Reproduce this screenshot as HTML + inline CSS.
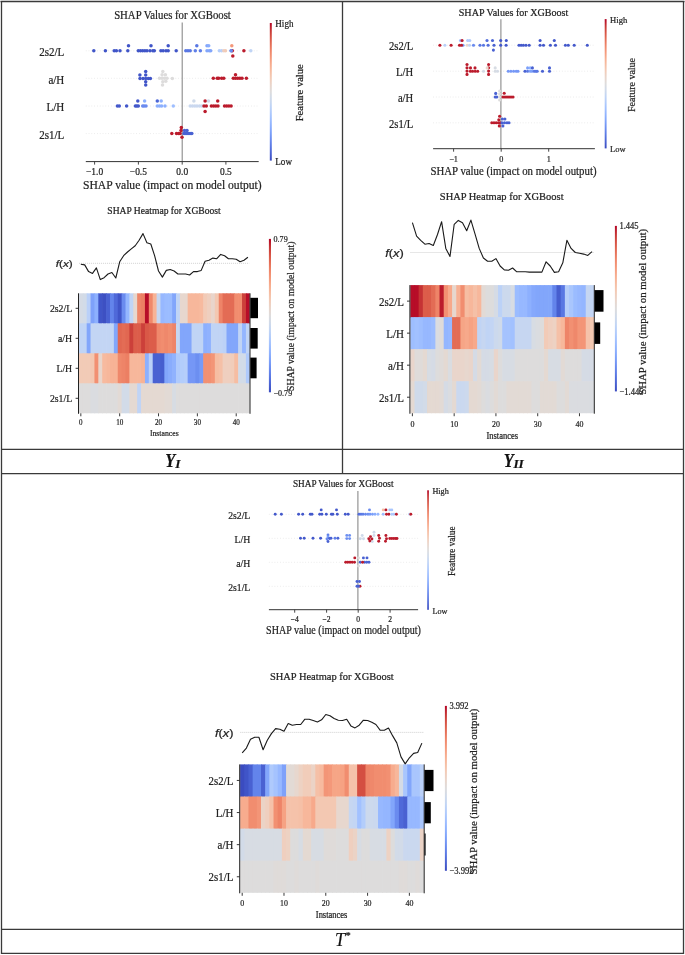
<!DOCTYPE html>
<html><head><meta charset="utf-8"><title>SHAP figure</title>
<style>html,body{margin:0;padding:0;background:#fff;width:685px;height:955px;overflow:hidden;font-family:"Liberation Serif",serif;}
svg{display:block;filter:blur(0.35px);} svg text{stroke:#222;stroke-width:0.22px;paint-order:stroke;}</style></head><body>
<svg width="685" height="955" viewBox="0 0 685 955"><line x1="0.50" y1="1.50" x2="684.50" y2="1.50" stroke="#3a3a3a" stroke-width="1.30" />
<line x1="1.50" y1="1.00" x2="1.50" y2="954.00" stroke="#3a3a3a" stroke-width="1.30" />
<line x1="683.50" y1="1.00" x2="683.50" y2="954.00" stroke="#3a3a3a" stroke-width="1.30" />
<line x1="1.00" y1="953.30" x2="684.00" y2="953.30" stroke="#3a3a3a" stroke-width="1.30" />
<line x1="342.50" y1="1.00" x2="342.50" y2="474.00" stroke="#3a3a3a" stroke-width="1.30" />
<line x1="1.00" y1="449.40" x2="684.00" y2="449.40" stroke="#3a3a3a" stroke-width="1.30" />
<line x1="1.00" y1="473.70" x2="684.00" y2="473.70" stroke="#3a3a3a" stroke-width="1.30" />
<line x1="1.00" y1="929.30" x2="684.00" y2="929.30" stroke="#3a3a3a" stroke-width="1.30" />
<text transform="translate(165.3,467) scale(0.88,1)" x="0" y="0" font-size="18.5" font-family="'Liberation Serif', serif" font-weight="bold" font-style="italic" fill="#111">Y</text>
<text x="175.2" y="468.3" font-size="13.4" font-family="'Liberation Serif', serif" font-weight="bold" font-style="italic" fill="#111">I</text>
<text transform="translate(503.7,467) scale(0.88,1)" x="0" y="0" font-size="18.5" font-family="'Liberation Serif', serif" font-weight="bold" font-style="italic" fill="#111">Y</text>
<text x="513.4" y="468.3" font-size="13.4" font-family="'Liberation Serif', serif" font-weight="bold" font-style="italic" fill="#111">II</text>
<text x="335" y="946.2" font-size="18" fill="#111" font-family="'Liberation Serif', serif" font-style="italic">T<tspan font-size="10.5" dx="0" dy="-7">*</tspan></text>
<text x="172.5" y="18.6" font-size="11.60" text-anchor="middle" fill="#222" font-family="'Liberation Serif', serif" textLength="116.7" lengthAdjust="spacingAndGlyphs" >SHAP Values for XGBoost</text>
<line x1="85.80" y1="50.80" x2="258.70" y2="50.80" stroke="#d8d8d8" stroke-width="0.60" stroke-dasharray="0.8 2"/>
<line x1="85.80" y1="78.30" x2="258.70" y2="78.30" stroke="#d8d8d8" stroke-width="0.60" stroke-dasharray="0.8 2"/>
<line x1="85.80" y1="106.00" x2="258.70" y2="106.00" stroke="#d8d8d8" stroke-width="0.60" stroke-dasharray="0.8 2"/>
<line x1="85.80" y1="133.60" x2="258.70" y2="133.60" stroke="#d8d8d8" stroke-width="0.60" stroke-dasharray="0.8 2"/>
<line x1="182.20" y1="22.50" x2="182.20" y2="161.60" stroke="#8a8a8a" stroke-width="1.10" />
<text x="64.3" y="56.1" font-size="12.60" text-anchor="end" fill="#222" font-family="'Liberation Serif', serif" textLength="25.1" lengthAdjust="spacingAndGlyphs" >2s2/L</text>
<text x="64.3" y="83.6" font-size="12.60" text-anchor="end" fill="#222" font-family="'Liberation Serif', serif" textLength="15.9" lengthAdjust="spacingAndGlyphs" >a/H</text>
<text x="64.3" y="111.3" font-size="12.60" text-anchor="end" fill="#222" font-family="'Liberation Serif', serif" textLength="17.8" lengthAdjust="spacingAndGlyphs" >L/H</text>
<text x="64.3" y="138.9" font-size="12.60" text-anchor="end" fill="#222" font-family="'Liberation Serif', serif" textLength="25.1" lengthAdjust="spacingAndGlyphs" >2s1/L</text>
<circle cx="93.8" cy="50.8" r="1.75" fill="#4055c8"/>
<circle cx="105.4" cy="50.8" r="1.75" fill="#4055c8"/>
<circle cx="114.2" cy="50.8" r="1.75" fill="#4055c8"/>
<circle cx="116.4" cy="50.8" r="1.75" fill="#4055c8"/>
<circle cx="120.0" cy="50.8" r="1.75" fill="#4055c8"/>
<circle cx="127.8" cy="50.8" r="1.75" fill="#4055c8"/>
<circle cx="138.3" cy="50.8" r="1.75" fill="#4055c8"/>
<circle cx="140.5" cy="50.8" r="1.75" fill="#4055c8"/>
<circle cx="142.7" cy="50.8" r="1.75" fill="#4055c8"/>
<circle cx="144.9" cy="50.8" r="1.75" fill="#4055c8"/>
<circle cx="147.0" cy="50.8" r="1.75" fill="#4055c8"/>
<circle cx="150.0" cy="50.8" r="1.75" fill="#4055c8"/>
<circle cx="152.9" cy="50.8" r="1.75" fill="#4055c8"/>
<circle cx="154.3" cy="50.8" r="1.75" fill="#4055c8"/>
<circle cx="160.9" cy="50.8" r="1.75" fill="#4055c8"/>
<circle cx="163.1" cy="50.8" r="1.75" fill="#4055c8"/>
<circle cx="166.0" cy="50.8" r="1.75" fill="#4055c8"/>
<circle cx="168.2" cy="50.8" r="1.75" fill="#4055c8"/>
<circle cx="176.2" cy="50.8" r="1.75" fill="#4055c8"/>
<circle cx="128.5" cy="45.7" r="1.75" fill="#4055c8"/>
<circle cx="151.0" cy="45.7" r="1.75" fill="#4055c8"/>
<circle cx="168.2" cy="45.7" r="1.75" fill="#4055c8"/>
<circle cx="185.8" cy="50.8" r="1.75" fill="#5977e3"/>
<circle cx="188.0" cy="50.8" r="1.75" fill="#5977e3"/>
<circle cx="190.2" cy="50.8" r="1.75" fill="#5977e3"/>
<circle cx="195.3" cy="50.8" r="1.75" fill="#5f7fe8"/>
<circle cx="200.4" cy="50.8" r="1.75" fill="#5f7fe8"/>
<circle cx="207.0" cy="50.8" r="1.75" fill="#82a6fb"/>
<circle cx="209.2" cy="50.8" r="1.75" fill="#82a6fb"/>
<circle cx="210.7" cy="50.8" r="1.75" fill="#82a6fb"/>
<circle cx="219.4" cy="50.8" r="1.75" fill="#b3cdfb"/>
<circle cx="221.6" cy="50.8" r="1.75" fill="#bad0f8"/>
<circle cx="223.8" cy="50.8" r="1.75" fill="#efcfbf"/>
<circle cx="225.5" cy="50.8" r="1.75" fill="#f2cbb7"/>
<circle cx="231.1" cy="50.8" r="1.75" fill="#5f7fe8"/>
<circle cx="243.9" cy="50.8" r="1.75" fill="#bb1b2c"/>
<circle cx="250.8" cy="50.8" r="1.75" fill="#c0d4f5"/>
<circle cx="232.3" cy="50.8" r="1.75" fill="#bb1b2c"/>
<circle cx="231.3" cy="50.8" r="1.75" fill="#6a8bef"/>
<circle cx="196.8" cy="45.7" r="1.75" fill="#5977e3"/>
<circle cx="207.0" cy="45.7" r="1.75" fill="#82a6fb"/>
<circle cx="208.7" cy="45.7" r="1.75" fill="#89acfd"/>
<circle cx="231.8" cy="45.7" r="1.75" fill="#f4987a"/>
<circle cx="232.8" cy="56.0" r="1.75" fill="#bb1b2c"/>
<circle cx="145.7" cy="71.5" r="1.75" fill="#4055c8"/>
<circle cx="139.9" cy="74.9" r="1.75" fill="#4055c8"/>
<circle cx="145.7" cy="75.1" r="1.75" fill="#4055c8"/>
<circle cx="140.0" cy="78.4" r="1.75" fill="#4055c8"/>
<circle cx="143.0" cy="78.4" r="1.75" fill="#4055c8"/>
<circle cx="145.7" cy="78.4" r="1.75" fill="#4055c8"/>
<circle cx="148.3" cy="78.4" r="1.75" fill="#4055c8"/>
<circle cx="150.4" cy="78.4" r="1.75" fill="#4055c8"/>
<circle cx="145.7" cy="81.7" r="1.75" fill="#4055c8"/>
<circle cx="145.7" cy="85.1" r="1.75" fill="#4055c8"/>
<circle cx="162.8" cy="71.5" r="1.75" fill="#dddcdc"/>
<circle cx="162.1" cy="74.8" r="1.75" fill="#dddcdc"/>
<circle cx="165.4" cy="74.8" r="1.75" fill="#dddcdc"/>
<circle cx="159.5" cy="78.2" r="1.75" fill="#dddcdc"/>
<circle cx="162.0" cy="78.2" r="1.75" fill="#dddcdc"/>
<circle cx="164.5" cy="78.2" r="1.75" fill="#dddcdc"/>
<circle cx="167.0" cy="78.2" r="1.75" fill="#dddcdc"/>
<circle cx="172.3" cy="78.4" r="1.75" fill="#dddcdc"/>
<circle cx="162.8" cy="81.7" r="1.75" fill="#dddcdc"/>
<circle cx="165.8" cy="81.3" r="1.75" fill="#dddcdc"/>
<circle cx="162.5" cy="85.1" r="1.75" fill="#dddcdc"/>
<circle cx="213.3" cy="78.3" r="1.75" fill="#bb1b2c"/>
<circle cx="217.2" cy="78.3" r="1.75" fill="#bb1b2c"/>
<circle cx="218.7" cy="78.3" r="1.75" fill="#bb1b2c"/>
<circle cx="221.6" cy="78.3" r="1.75" fill="#bb1b2c"/>
<circle cx="223.8" cy="78.3" r="1.75" fill="#bb1b2c"/>
<circle cx="233.3" cy="78.3" r="1.75" fill="#bb1b2c"/>
<circle cx="237.7" cy="78.3" r="1.75" fill="#bb1b2c"/>
<circle cx="239.9" cy="78.3" r="1.75" fill="#bb1b2c"/>
<circle cx="242.0" cy="78.3" r="1.75" fill="#bb1b2c"/>
<circle cx="246.4" cy="78.3" r="1.75" fill="#bb1b2c"/>
<circle cx="235.5" cy="74.8" r="1.75" fill="#bb1b2c"/>
<circle cx="235.5" cy="78.3" r="1.75" fill="#bb1b2c"/>
<circle cx="117.4" cy="106.0" r="1.75" fill="#4358cb"/>
<circle cx="119.3" cy="106.0" r="1.75" fill="#4358cb"/>
<circle cx="126.6" cy="106.0" r="1.75" fill="#4358cb"/>
<circle cx="135.4" cy="106.0" r="1.75" fill="#4358cb"/>
<circle cx="136.8" cy="106.0" r="1.75" fill="#4358cb"/>
<circle cx="138.3" cy="106.0" r="1.75" fill="#4358cb"/>
<circle cx="137.8" cy="101.0" r="1.75" fill="#4358cb"/>
<circle cx="142.7" cy="106.0" r="1.75" fill="#6a8bef"/>
<circle cx="144.1" cy="106.0" r="1.75" fill="#6a8bef"/>
<circle cx="146.0" cy="106.0" r="1.75" fill="#6a8bef"/>
<circle cx="144.6" cy="101.0" r="1.75" fill="#8db0fe"/>
<circle cx="157.3" cy="106.0" r="1.75" fill="#8db0fe"/>
<circle cx="159.5" cy="106.0" r="1.75" fill="#8db0fe"/>
<circle cx="161.6" cy="106.0" r="1.75" fill="#8db0fe"/>
<circle cx="165.0" cy="106.0" r="1.75" fill="#8db0fe"/>
<circle cx="157.3" cy="101.0" r="1.75" fill="#4c66d6"/>
<circle cx="161.2" cy="101.0" r="1.75" fill="#8db0fe"/>
<circle cx="173.3" cy="106.0" r="1.75" fill="#9ebeff"/>
<circle cx="190.2" cy="106.0" r="1.75" fill="#cad8ef"/>
<circle cx="192.5" cy="106.0" r="1.75" fill="#cad8ef"/>
<circle cx="194.8" cy="106.0" r="1.75" fill="#cad8ef"/>
<circle cx="197.0" cy="106.0" r="1.75" fill="#cad8ef"/>
<circle cx="199.5" cy="106.0" r="1.75" fill="#cad8ef"/>
<circle cx="201.9" cy="106.0" r="1.75" fill="#cad8ef"/>
<circle cx="193.9" cy="101.0" r="1.75" fill="#cfdaea"/>
<circle cx="208.5" cy="101.0" r="1.75" fill="#cfdaea"/>
<circle cx="204.0" cy="106.0" r="1.75" fill="#bb1b2c"/>
<circle cx="206.3" cy="106.0" r="1.75" fill="#bb1b2c"/>
<circle cx="211.4" cy="106.0" r="1.75" fill="#bb1b2c"/>
<circle cx="213.6" cy="106.0" r="1.75" fill="#bb1b2c"/>
<circle cx="215.8" cy="106.0" r="1.75" fill="#bb1b2c"/>
<circle cx="218.0" cy="106.0" r="1.75" fill="#bb1b2c"/>
<circle cx="224.5" cy="106.0" r="1.75" fill="#bb1b2c"/>
<circle cx="226.7" cy="106.0" r="1.75" fill="#bb1b2c"/>
<circle cx="228.9" cy="106.0" r="1.75" fill="#bb1b2c"/>
<circle cx="231.1" cy="106.0" r="1.75" fill="#bb1b2c"/>
<circle cx="205.1" cy="101.0" r="1.75" fill="#bb1b2c"/>
<circle cx="217.7" cy="101.0" r="1.75" fill="#bb1b2c"/>
<circle cx="205.1" cy="111.6" r="1.75" fill="#bb1b2c"/>
<circle cx="171.8" cy="133.6" r="1.75" fill="#bb1b2c"/>
<circle cx="176.5" cy="133.6" r="1.75" fill="#bb1b2c"/>
<circle cx="178.7" cy="133.6" r="1.75" fill="#bb1b2c"/>
<circle cx="180.1" cy="133.6" r="1.75" fill="#bb1b2c"/>
<circle cx="181.3" cy="127.6" r="1.75" fill="#bb1b2c"/>
<circle cx="181.0" cy="130.6" r="1.75" fill="#bb1b2c"/>
<circle cx="182.0" cy="137.3" r="1.75" fill="#bb1b2c"/>
<circle cx="184.0" cy="133.6" r="1.75" fill="#4961d2"/>
<circle cx="186.0" cy="133.6" r="1.75" fill="#4961d2"/>
<circle cx="188.0" cy="133.6" r="1.75" fill="#4961d2"/>
<circle cx="190.0" cy="133.6" r="1.75" fill="#4961d2"/>
<circle cx="191.8" cy="133.6" r="1.75" fill="#4961d2"/>
<circle cx="184.5" cy="130.6" r="1.75" fill="#4961d2"/>
<circle cx="187.0" cy="130.6" r="1.75" fill="#4961d2"/>
<line x1="85.80" y1="161.60" x2="258.70" y2="161.60" stroke="#333" stroke-width="1.00" />
<line x1="94.60" y1="161.60" x2="94.60" y2="164.60" stroke="#333" stroke-width="0.90" />
<text x="94.6" y="174.9" font-size="9.70" text-anchor="middle" fill="#222" font-family="'Liberation Serif', serif" textLength="17.1" lengthAdjust="spacingAndGlyphs" >−1.0</text>
<line x1="138.40" y1="161.60" x2="138.40" y2="164.60" stroke="#333" stroke-width="0.90" />
<text x="138.4" y="174.9" font-size="9.70" text-anchor="middle" fill="#222" font-family="'Liberation Serif', serif" textLength="17.1" lengthAdjust="spacingAndGlyphs" >−0.5</text>
<line x1="182.20" y1="161.60" x2="182.20" y2="164.60" stroke="#333" stroke-width="0.90" />
<text x="182.2" y="174.9" font-size="9.70" text-anchor="middle" fill="#222" font-family="'Liberation Serif', serif" textLength="11.8" lengthAdjust="spacingAndGlyphs" >0.0</text>
<line x1="225.90" y1="161.60" x2="225.90" y2="164.60" stroke="#333" stroke-width="0.90" />
<text x="225.9" y="174.9" font-size="9.70" text-anchor="middle" fill="#222" font-family="'Liberation Serif', serif" textLength="11.8" lengthAdjust="spacingAndGlyphs" >0.5</text>
<text x="172.3" y="189.0" font-size="12.90" text-anchor="middle" fill="#222" font-family="'Liberation Serif', serif" textLength="178.6" lengthAdjust="spacingAndGlyphs" >SHAP value (impact on model output)</text>
<defs><linearGradient id="cb1" x1="0" y1="0" x2="0" y2="1"><stop offset="0.00" stop-color="#b40426"/><stop offset="0.05" stop-color="#c53334"/><stop offset="0.10" stop-color="#d65244"/><stop offset="0.15" stop-color="#e36c55"/><stop offset="0.20" stop-color="#ee8468"/><stop offset="0.25" stop-color="#f4987a"/><stop offset="0.30" stop-color="#f7ac8e"/><stop offset="0.35" stop-color="#f6bda2"/><stop offset="0.40" stop-color="#f2cbb7"/><stop offset="0.45" stop-color="#e9d5cb"/><stop offset="0.50" stop-color="#dddcdc"/><stop offset="0.55" stop-color="#cfdaea"/><stop offset="0.60" stop-color="#c0d4f5"/><stop offset="0.65" stop-color="#afcafc"/><stop offset="0.70" stop-color="#9ebeff"/><stop offset="0.75" stop-color="#8db0fe"/><stop offset="0.80" stop-color="#7b9ff9"/><stop offset="0.85" stop-color="#6a8bef"/><stop offset="0.90" stop-color="#5977e3"/><stop offset="0.95" stop-color="#4961d2"/><stop offset="1.00" stop-color="#3b4cc0"/></linearGradient></defs>
<rect x="269.80" y="23.00" width="2.00" height="137.60" fill="url(#cb1)"/>
<text x="275.3" y="26.5" font-size="9.80" text-anchor="start" fill="#222" font-family="'Liberation Serif', serif" textLength="18.2" lengthAdjust="spacingAndGlyphs" >High</text>
<text x="275.3" y="164.6" font-size="9.80" text-anchor="start" fill="#222" font-family="'Liberation Serif', serif" textLength="16.7" lengthAdjust="spacingAndGlyphs" >Low</text>
<text x="0" y="0" font-size="11.00" text-anchor="middle" dominant-baseline="central" fill="#222" font-family="'Liberation Serif', serif" textLength="57.0" lengthAdjust="spacingAndGlyphs" transform="translate(298.8,92.8) rotate(-90)">Feature value</text>
<text x="513.5" y="15.8" font-size="10.80" text-anchor="middle" fill="#222" font-family="'Liberation Serif', serif" textLength="109.5" lengthAdjust="spacingAndGlyphs" >SHAP Values for XGBoost</text>
<line x1="433.10" y1="45.20" x2="594.90" y2="45.20" stroke="#d8d8d8" stroke-width="0.60" stroke-dasharray="0.8 2"/>
<line x1="433.10" y1="71.20" x2="594.90" y2="71.20" stroke="#d8d8d8" stroke-width="0.60" stroke-dasharray="0.8 2"/>
<line x1="433.10" y1="97.00" x2="594.90" y2="97.00" stroke="#d8d8d8" stroke-width="0.60" stroke-dasharray="0.8 2"/>
<line x1="433.10" y1="122.80" x2="594.90" y2="122.80" stroke="#d8d8d8" stroke-width="0.60" stroke-dasharray="0.8 2"/>
<line x1="500.90" y1="19.30" x2="500.90" y2="148.70" stroke="#8a8a8a" stroke-width="1.10" />
<text x="413.2" y="50.1" font-size="11.80" text-anchor="end" fill="#222" font-family="'Liberation Serif', serif" textLength="24.2" lengthAdjust="spacingAndGlyphs" >2s2/L</text>
<text x="413.2" y="76.1" font-size="11.80" text-anchor="end" fill="#222" font-family="'Liberation Serif', serif" textLength="17.1" lengthAdjust="spacingAndGlyphs" >L/H</text>
<text x="413.2" y="101.9" font-size="11.80" text-anchor="end" fill="#222" font-family="'Liberation Serif', serif" textLength="15.3" lengthAdjust="spacingAndGlyphs" >a/H</text>
<text x="413.2" y="127.7" font-size="11.80" text-anchor="end" fill="#222" font-family="'Liberation Serif', serif" textLength="24.2" lengthAdjust="spacingAndGlyphs" >2s1/L</text>
<circle cx="439.9" cy="45.2" r="1.55" fill="#bb1b2c"/>
<circle cx="444.9" cy="45.2" r="1.55" fill="#bad0f8"/>
<circle cx="451.1" cy="45.2" r="1.55" fill="#bb1b2c"/>
<circle cx="459.5" cy="45.2" r="1.55" fill="#bb1b2c"/>
<circle cx="463.0" cy="45.2" r="1.55" fill="#7b9ff9"/>
<circle cx="467.1" cy="45.2" r="1.55" fill="#e9d5cb"/>
<circle cx="469.5" cy="45.2" r="1.55" fill="#c0d4f5"/>
<circle cx="473.5" cy="45.2" r="1.55" fill="#6a8bef"/>
<circle cx="480.0" cy="45.2" r="1.55" fill="#5977e3"/>
<circle cx="483.5" cy="45.2" r="1.55" fill="#5977e3"/>
<circle cx="488.1" cy="45.2" r="1.55" fill="#536edd"/>
<circle cx="494.0" cy="45.2" r="1.55" fill="#4961d2"/>
<circle cx="500.7" cy="45.2" r="1.55" fill="#4358cb"/>
<circle cx="506.1" cy="45.2" r="1.55" fill="#4358cb"/>
<circle cx="519.0" cy="45.2" r="1.55" fill="#4358cb"/>
<circle cx="521.2" cy="45.2" r="1.55" fill="#4358cb"/>
<circle cx="523.4" cy="45.2" r="1.55" fill="#4358cb"/>
<circle cx="526.0" cy="45.2" r="1.55" fill="#4358cb"/>
<circle cx="529.2" cy="45.2" r="1.55" fill="#4358cb"/>
<circle cx="540.1" cy="45.2" r="1.55" fill="#4358cb"/>
<circle cx="543.5" cy="45.2" r="1.55" fill="#4358cb"/>
<circle cx="550.4" cy="45.2" r="1.55" fill="#4358cb"/>
<circle cx="555.5" cy="45.2" r="1.55" fill="#4358cb"/>
<circle cx="565.4" cy="45.2" r="1.55" fill="#4358cb"/>
<circle cx="568.3" cy="45.2" r="1.55" fill="#4358cb"/>
<circle cx="574.2" cy="45.2" r="1.55" fill="#4358cb"/>
<circle cx="587.3" cy="45.2" r="1.55" fill="#4358cb"/>
<circle cx="461.5" cy="45.2" r="1.55" fill="#bb1b2c"/>
<circle cx="460.5" cy="40.5" r="1.55" fill="#9ebeff"/>
<circle cx="462.1" cy="40.5" r="1.55" fill="#bb1b2c"/>
<circle cx="467.7" cy="40.5" r="1.55" fill="#afcafc"/>
<circle cx="469.8" cy="40.5" r="1.55" fill="#afcafc"/>
<circle cx="487.0" cy="40.5" r="1.55" fill="#536edd"/>
<circle cx="492.5" cy="40.5" r="1.55" fill="#4c66d6"/>
<circle cx="500.7" cy="40.5" r="1.55" fill="#4358cb"/>
<circle cx="506.3" cy="40.5" r="1.55" fill="#4358cb"/>
<circle cx="540.1" cy="40.5" r="1.55" fill="#4358cb"/>
<circle cx="554.3" cy="40.5" r="1.55" fill="#4358cb"/>
<circle cx="493.4" cy="50.1" r="1.55" fill="#4961d2"/>
<circle cx="467.0" cy="64.5" r="1.55" fill="#bb1b2c"/>
<circle cx="488.6" cy="64.5" r="1.55" fill="#bb1b2c"/>
<circle cx="467.0" cy="67.8" r="1.55" fill="#bb1b2c"/>
<circle cx="488.6" cy="67.8" r="1.55" fill="#bb1b2c"/>
<circle cx="467.0" cy="71.1" r="1.55" fill="#bb1b2c"/>
<circle cx="488.6" cy="71.1" r="1.55" fill="#bb1b2c"/>
<circle cx="467.0" cy="74.4" r="1.55" fill="#bb1b2c"/>
<circle cx="488.6" cy="74.4" r="1.55" fill="#bb1b2c"/>
<circle cx="470.4" cy="71.2" r="1.55" fill="#bb1b2c"/>
<circle cx="472.6" cy="71.2" r="1.55" fill="#bb1b2c"/>
<circle cx="475.2" cy="71.2" r="1.55" fill="#bb1b2c"/>
<circle cx="477.7" cy="71.2" r="1.55" fill="#bb1b2c"/>
<circle cx="470.5" cy="67.9" r="1.55" fill="#bb1b2c"/>
<circle cx="475.0" cy="67.9" r="1.55" fill="#bb1b2c"/>
<circle cx="483.5" cy="71.2" r="1.55" fill="#d5dbe5"/>
<circle cx="487.2" cy="67.9" r="1.55" fill="#e9d5cb"/>
<circle cx="495.2" cy="67.9" r="1.55" fill="#d7dce3"/>
<circle cx="495.2" cy="71.2" r="1.55" fill="#d7dce3"/>
<circle cx="497.5" cy="71.2" r="1.55" fill="#d5dbe5"/>
<circle cx="508.3" cy="71.2" r="1.55" fill="#7597f6"/>
<circle cx="510.9" cy="71.2" r="1.55" fill="#7597f6"/>
<circle cx="513.6" cy="71.2" r="1.55" fill="#7597f6"/>
<circle cx="516.2" cy="71.2" r="1.55" fill="#7597f6"/>
<circle cx="518.0" cy="71.2" r="1.55" fill="#7597f6"/>
<circle cx="525.0" cy="71.2" r="1.55" fill="#4961d2"/>
<circle cx="527.6" cy="71.2" r="1.55" fill="#5977e3"/>
<circle cx="530.2" cy="71.2" r="1.55" fill="#7b9ff9"/>
<circle cx="532.0" cy="71.2" r="1.55" fill="#7b9ff9"/>
<circle cx="534.2" cy="71.2" r="1.55" fill="#5977e3"/>
<circle cx="535.9" cy="71.2" r="1.55" fill="#5977e3"/>
<circle cx="537.2" cy="71.2" r="1.55" fill="#5977e3"/>
<circle cx="542.5" cy="71.2" r="1.55" fill="#4961d2"/>
<circle cx="549.5" cy="71.2" r="1.55" fill="#4961d2"/>
<circle cx="527.6" cy="67.9" r="1.55" fill="#7b9ff9"/>
<circle cx="530.2" cy="67.9" r="1.55" fill="#8db0fe"/>
<circle cx="532.4" cy="67.9" r="1.55" fill="#4961d2"/>
<circle cx="549.5" cy="67.9" r="1.55" fill="#4961d2"/>
<circle cx="495.7" cy="93.4" r="1.55" fill="#4961d2"/>
<circle cx="495.2" cy="97.0" r="1.55" fill="#4961d2"/>
<circle cx="496.8" cy="97.0" r="1.55" fill="#4961d2"/>
<circle cx="499.6" cy="91.0" r="1.55" fill="#dddcdc"/>
<circle cx="499.6" cy="94.0" r="1.55" fill="#dddcdc"/>
<circle cx="499.6" cy="97.0" r="1.55" fill="#dddcdc"/>
<circle cx="499.6" cy="100.0" r="1.55" fill="#dddcdc"/>
<circle cx="504.2" cy="93.2" r="1.55" fill="#bb1b2c"/>
<circle cx="503.0" cy="97.0" r="1.55" fill="#bb1b2c"/>
<circle cx="505.0" cy="97.0" r="1.55" fill="#bb1b2c"/>
<circle cx="507.0" cy="97.0" r="1.55" fill="#bb1b2c"/>
<circle cx="509.0" cy="97.0" r="1.55" fill="#bb1b2c"/>
<circle cx="511.0" cy="97.0" r="1.55" fill="#bb1b2c"/>
<circle cx="513.0" cy="97.0" r="1.55" fill="#bb1b2c"/>
<circle cx="499.6" cy="116.2" r="1.55" fill="#bb1b2c"/>
<circle cx="498.8" cy="119.7" r="1.55" fill="#bb1b2c"/>
<circle cx="491.8" cy="122.8" r="1.55" fill="#bb1b2c"/>
<circle cx="494.0" cy="122.8" r="1.55" fill="#bb1b2c"/>
<circle cx="496.2" cy="122.8" r="1.55" fill="#bb1b2c"/>
<circle cx="498.4" cy="122.8" r="1.55" fill="#bb1b2c"/>
<circle cx="500.0" cy="122.8" r="1.55" fill="#bb1b2c"/>
<circle cx="499.3" cy="125.9" r="1.55" fill="#bb1b2c"/>
<circle cx="502.4" cy="119.0" r="1.55" fill="#4961d2"/>
<circle cx="504.9" cy="119.0" r="1.55" fill="#4961d2"/>
<circle cx="502.0" cy="122.8" r="1.55" fill="#4961d2"/>
<circle cx="504.5" cy="122.8" r="1.55" fill="#4961d2"/>
<circle cx="507.0" cy="122.8" r="1.55" fill="#4961d2"/>
<circle cx="509.0" cy="122.8" r="1.55" fill="#4961d2"/>
<circle cx="502.9" cy="125.9" r="1.55" fill="#4961d2"/>
<line x1="433.10" y1="148.70" x2="594.90" y2="148.70" stroke="#333" stroke-width="1.00" />
<line x1="453.60" y1="148.70" x2="453.60" y2="151.70" stroke="#333" stroke-width="0.90" />
<text x="453.6" y="161.6" font-size="9.00" text-anchor="middle" fill="#222" font-family="'Liberation Serif', serif" textLength="8.8" lengthAdjust="spacingAndGlyphs" >−1</text>
<line x1="501.20" y1="148.70" x2="501.20" y2="151.70" stroke="#333" stroke-width="0.90" />
<text x="501.2" y="161.6" font-size="9.00" text-anchor="middle" fill="#222" font-family="'Liberation Serif', serif" textLength="4.1" lengthAdjust="spacingAndGlyphs" >0</text>
<line x1="548.70" y1="148.70" x2="548.70" y2="151.70" stroke="#333" stroke-width="0.90" />
<text x="548.7" y="161.6" font-size="9.00" text-anchor="middle" fill="#222" font-family="'Liberation Serif', serif" textLength="4.1" lengthAdjust="spacingAndGlyphs" >1</text>
<text x="513.5" y="174.9" font-size="12.20" text-anchor="middle" fill="#222" font-family="'Liberation Serif', serif" textLength="166.0" lengthAdjust="spacingAndGlyphs" >SHAP value (impact on model output)</text>
<defs><linearGradient id="cb2" x1="0" y1="0" x2="0" y2="1"><stop offset="0.00" stop-color="#b40426"/><stop offset="0.05" stop-color="#c53334"/><stop offset="0.10" stop-color="#d65244"/><stop offset="0.15" stop-color="#e36c55"/><stop offset="0.20" stop-color="#ee8468"/><stop offset="0.25" stop-color="#f4987a"/><stop offset="0.30" stop-color="#f7ac8e"/><stop offset="0.35" stop-color="#f6bda2"/><stop offset="0.40" stop-color="#f2cbb7"/><stop offset="0.45" stop-color="#e9d5cb"/><stop offset="0.50" stop-color="#dddcdc"/><stop offset="0.55" stop-color="#cfdaea"/><stop offset="0.60" stop-color="#c0d4f5"/><stop offset="0.65" stop-color="#afcafc"/><stop offset="0.70" stop-color="#9ebeff"/><stop offset="0.75" stop-color="#8db0fe"/><stop offset="0.80" stop-color="#7b9ff9"/><stop offset="0.85" stop-color="#6a8bef"/><stop offset="0.90" stop-color="#5977e3"/><stop offset="0.95" stop-color="#4961d2"/><stop offset="1.00" stop-color="#3b4cc0"/></linearGradient></defs>
<rect x="604.70" y="19.10" width="1.90" height="129.30" fill="url(#cb2)"/>
<text x="610.1" y="22.6" font-size="9.20" text-anchor="start" fill="#222" font-family="'Liberation Serif', serif" textLength="17.1" lengthAdjust="spacingAndGlyphs" >High</text>
<text x="610.1" y="152.4" font-size="9.20" text-anchor="start" fill="#222" font-family="'Liberation Serif', serif" textLength="15.7" lengthAdjust="spacingAndGlyphs" >Low</text>
<text x="0" y="0" font-size="10.50" text-anchor="middle" dominant-baseline="central" fill="#222" font-family="'Liberation Serif', serif" textLength="54.0" lengthAdjust="spacingAndGlyphs" transform="translate(631.5,85.0) rotate(-90)">Feature value</text>
<text x="343.2" y="486.8" font-size="9.90" text-anchor="middle" fill="#222" font-family="'Liberation Serif', serif" textLength="100.6" lengthAdjust="spacingAndGlyphs" >SHAP Values for XGBoost</text>
<line x1="268.90" y1="514.30" x2="418.10" y2="514.30" stroke="#d8d8d8" stroke-width="0.60" stroke-dasharray="0.8 2"/>
<line x1="268.90" y1="538.30" x2="418.10" y2="538.30" stroke="#d8d8d8" stroke-width="0.60" stroke-dasharray="0.8 2"/>
<line x1="268.90" y1="562.30" x2="418.10" y2="562.30" stroke="#d8d8d8" stroke-width="0.60" stroke-dasharray="0.8 2"/>
<line x1="268.90" y1="586.30" x2="418.10" y2="586.30" stroke="#d8d8d8" stroke-width="0.60" stroke-dasharray="0.8 2"/>
<line x1="357.90" y1="491.00" x2="357.90" y2="609.70" stroke="#8a8a8a" stroke-width="1.10" />
<text x="250.3" y="518.8" font-size="10.80" text-anchor="end" fill="#222" font-family="'Liberation Serif', serif" textLength="22.1" lengthAdjust="spacingAndGlyphs" >2s2/L</text>
<text x="250.3" y="542.8" font-size="10.80" text-anchor="end" fill="#222" font-family="'Liberation Serif', serif" textLength="15.7" lengthAdjust="spacingAndGlyphs" >L/H</text>
<text x="250.3" y="566.8" font-size="10.80" text-anchor="end" fill="#222" font-family="'Liberation Serif', serif" textLength="14.0" lengthAdjust="spacingAndGlyphs" >a/H</text>
<text x="250.3" y="590.8" font-size="10.80" text-anchor="end" fill="#222" font-family="'Liberation Serif', serif" textLength="22.1" lengthAdjust="spacingAndGlyphs" >2s1/L</text>
<circle cx="275.2" cy="514.3" r="1.45" fill="#4358cb"/>
<circle cx="281.4" cy="514.3" r="1.45" fill="#4358cb"/>
<circle cx="298.6" cy="514.3" r="1.45" fill="#4358cb"/>
<circle cx="302.7" cy="514.3" r="1.45" fill="#4358cb"/>
<circle cx="310.3" cy="514.3" r="1.45" fill="#4358cb"/>
<circle cx="312.0" cy="514.3" r="1.45" fill="#4358cb"/>
<circle cx="319.7" cy="514.3" r="1.45" fill="#4358cb"/>
<circle cx="321.9" cy="514.3" r="1.45" fill="#4358cb"/>
<circle cx="326.3" cy="514.3" r="1.45" fill="#4358cb"/>
<circle cx="331.4" cy="514.3" r="1.45" fill="#4358cb"/>
<circle cx="332.9" cy="514.3" r="1.45" fill="#4358cb"/>
<circle cx="337.3" cy="514.3" r="1.45" fill="#4358cb"/>
<circle cx="345.3" cy="514.3" r="1.45" fill="#4358cb"/>
<circle cx="348.2" cy="514.3" r="1.45" fill="#4358cb"/>
<circle cx="321.2" cy="509.9" r="1.45" fill="#4358cb"/>
<circle cx="336.5" cy="509.9" r="1.45" fill="#4358cb"/>
<circle cx="359.0" cy="514.3" r="1.45" fill="#536edd"/>
<circle cx="361.0" cy="514.3" r="1.45" fill="#5977e3"/>
<circle cx="363.0" cy="514.3" r="1.45" fill="#5f7fe8"/>
<circle cx="365.5" cy="514.3" r="1.45" fill="#6687ed"/>
<circle cx="368.0" cy="514.3" r="1.45" fill="#6c8ff1"/>
<circle cx="370.0" cy="514.3" r="1.45" fill="#7597f6"/>
<circle cx="372.5" cy="514.3" r="1.45" fill="#7b9ff9"/>
<circle cx="375.0" cy="514.3" r="1.45" fill="#89acfd"/>
<circle cx="378.0" cy="514.3" r="1.45" fill="#97b8ff"/>
<circle cx="383.2" cy="514.3" r="1.45" fill="#9ebeff"/>
<circle cx="386.5" cy="514.3" r="1.45" fill="#bb1b2c"/>
<circle cx="388.9" cy="514.3" r="1.45" fill="#bb1b2c"/>
<circle cx="391.8" cy="514.3" r="1.45" fill="#afcafc"/>
<circle cx="393.8" cy="514.3" r="1.45" fill="#afcafc"/>
<circle cx="396.4" cy="514.3" r="1.45" fill="#bb1b2c"/>
<circle cx="409.5" cy="514.3" r="1.45" fill="#c0d4f5"/>
<circle cx="410.8" cy="514.3" r="1.45" fill="#bb1b2c"/>
<circle cx="369.5" cy="509.9" r="1.45" fill="#6a8bef"/>
<circle cx="383.2" cy="509.9" r="1.45" fill="#f6bda2"/>
<circle cx="385.9" cy="509.9" r="1.45" fill="#bb1b2c"/>
<circle cx="389.8" cy="509.9" r="1.45" fill="#a9c6fd"/>
<circle cx="391.8" cy="509.9" r="1.45" fill="#a9c6fd"/>
<circle cx="300.5" cy="538.3" r="1.45" fill="#4358cb"/>
<circle cx="304.2" cy="538.3" r="1.45" fill="#4358cb"/>
<circle cx="313.0" cy="538.3" r="1.45" fill="#4358cb"/>
<circle cx="320.6" cy="538.3" r="1.45" fill="#4358cb"/>
<circle cx="328.0" cy="535.0" r="1.45" fill="#5f7fe8"/>
<circle cx="328.0" cy="537.0" r="1.45" fill="#7b9ff9"/>
<circle cx="327.0" cy="539.0" r="1.45" fill="#6a8bef"/>
<circle cx="329.5" cy="538.5" r="1.45" fill="#4961d2"/>
<circle cx="331.0" cy="538.3" r="1.45" fill="#4961d2"/>
<circle cx="328.0" cy="541.5" r="1.45" fill="#4961d2"/>
<circle cx="335.0" cy="538.3" r="1.45" fill="#5f7fe8"/>
<circle cx="337.9" cy="538.3" r="1.45" fill="#4c66d6"/>
<circle cx="346.8" cy="535.4" r="1.45" fill="#6c8ff1"/>
<circle cx="349.6" cy="535.4" r="1.45" fill="#6c8ff1"/>
<circle cx="346.8" cy="538.6" r="1.45" fill="#6c8ff1"/>
<circle cx="349.6" cy="538.6" r="1.45" fill="#6c8ff1"/>
<circle cx="360.3" cy="538.8" r="1.45" fill="#cfdaea"/>
<circle cx="362.2" cy="535.5" r="1.45" fill="#cfdaea"/>
<circle cx="363.5" cy="538.8" r="1.45" fill="#cfdaea"/>
<circle cx="374.0" cy="532.2" r="1.45" fill="#cfdaea"/>
<circle cx="374.0" cy="535.5" r="1.45" fill="#cfdaea"/>
<circle cx="372.3" cy="538.8" r="1.45" fill="#cfdaea"/>
<circle cx="372.3" cy="541.6" r="1.45" fill="#cfdaea"/>
<circle cx="368.8" cy="538.8" r="1.45" fill="#bb1b2c"/>
<circle cx="370.5" cy="536.6" r="1.45" fill="#bb1b2c"/>
<circle cx="371.8" cy="539.0" r="1.45" fill="#bb1b2c"/>
<circle cx="369.8" cy="541.0" r="1.45" fill="#bb1b2c"/>
<circle cx="378.7" cy="535.5" r="1.45" fill="#bb1b2c"/>
<circle cx="379.5" cy="538.3" r="1.45" fill="#bb1b2c"/>
<circle cx="378.7" cy="541.2" r="1.45" fill="#bb1b2c"/>
<circle cx="385.9" cy="535.5" r="1.45" fill="#bb1b2c"/>
<circle cx="386.5" cy="538.8" r="1.45" fill="#bb1b2c"/>
<circle cx="385.5" cy="541.2" r="1.45" fill="#bb1b2c"/>
<circle cx="389.8" cy="538.5" r="1.45" fill="#bb1b2c"/>
<circle cx="391.8" cy="538.5" r="1.45" fill="#bb1b2c"/>
<circle cx="393.8" cy="538.5" r="1.45" fill="#bb1b2c"/>
<circle cx="395.7" cy="538.5" r="1.45" fill="#bb1b2c"/>
<circle cx="397.0" cy="538.5" r="1.45" fill="#bb1b2c"/>
<circle cx="345.7" cy="562.3" r="1.45" fill="#bb1b2c"/>
<circle cx="347.8" cy="562.3" r="1.45" fill="#bb1b2c"/>
<circle cx="350.0" cy="562.3" r="1.45" fill="#bb1b2c"/>
<circle cx="352.2" cy="562.3" r="1.45" fill="#bb1b2c"/>
<circle cx="354.5" cy="562.3" r="1.45" fill="#bb1b2c"/>
<circle cx="354.8" cy="557.9" r="1.45" fill="#bb1b2c"/>
<circle cx="358.5" cy="557.9" r="1.45" fill="#dddcdc"/>
<circle cx="358.5" cy="566.0" r="1.45" fill="#dddcdc"/>
<circle cx="360.3" cy="562.3" r="1.45" fill="#4961d2"/>
<circle cx="364.5" cy="562.3" r="1.45" fill="#4961d2"/>
<circle cx="366.7" cy="562.3" r="1.45" fill="#4961d2"/>
<circle cx="369.0" cy="562.3" r="1.45" fill="#4961d2"/>
<circle cx="362.6" cy="562.3" r="1.45" fill="#bb1b2c"/>
<circle cx="363.4" cy="557.9" r="1.45" fill="#4961d2"/>
<circle cx="367.0" cy="557.9" r="1.45" fill="#4961d2"/>
<circle cx="357.0" cy="581.5" r="1.45" fill="#4961d2"/>
<circle cx="359.5" cy="581.5" r="1.45" fill="#4961d2"/>
<circle cx="357.0" cy="586.3" r="1.45" fill="#4961d2"/>
<circle cx="360.0" cy="586.3" r="1.45" fill="#bb1b2c"/>
<circle cx="358.5" cy="586.3" r="1.45" fill="#4961d2"/>
<line x1="268.90" y1="609.70" x2="418.10" y2="609.70" stroke="#333" stroke-width="1.00" />
<line x1="294.70" y1="609.70" x2="294.70" y2="612.70" stroke="#333" stroke-width="0.90" />
<text x="294.7" y="621.8" font-size="8.20" text-anchor="middle" fill="#222" font-family="'Liberation Serif', serif" textLength="8.1" lengthAdjust="spacingAndGlyphs" >−4</text>
<line x1="326.60" y1="609.70" x2="326.60" y2="612.70" stroke="#333" stroke-width="0.90" />
<text x="326.6" y="621.8" font-size="8.20" text-anchor="middle" fill="#222" font-family="'Liberation Serif', serif" textLength="8.1" lengthAdjust="spacingAndGlyphs" >−2</text>
<line x1="358.20" y1="609.70" x2="358.20" y2="612.70" stroke="#333" stroke-width="0.90" />
<text x="358.2" y="621.8" font-size="8.20" text-anchor="middle" fill="#222" font-family="'Liberation Serif', serif" textLength="3.8" lengthAdjust="spacingAndGlyphs" >0</text>
<line x1="390.10" y1="609.70" x2="390.10" y2="612.70" stroke="#333" stroke-width="0.90" />
<text x="390.1" y="621.8" font-size="8.20" text-anchor="middle" fill="#222" font-family="'Liberation Serif', serif" textLength="3.8" lengthAdjust="spacingAndGlyphs" >2</text>
<text x="343.5" y="634.0" font-size="11.80" text-anchor="middle" fill="#222" font-family="'Liberation Serif', serif" textLength="154.8" lengthAdjust="spacingAndGlyphs" >SHAP value (impact on model output)</text>
<defs><linearGradient id="cb3" x1="0" y1="0" x2="0" y2="1"><stop offset="0.00" stop-color="#b40426"/><stop offset="0.05" stop-color="#c53334"/><stop offset="0.10" stop-color="#d65244"/><stop offset="0.15" stop-color="#e36c55"/><stop offset="0.20" stop-color="#ee8468"/><stop offset="0.25" stop-color="#f4987a"/><stop offset="0.30" stop-color="#f7ac8e"/><stop offset="0.35" stop-color="#f6bda2"/><stop offset="0.40" stop-color="#f2cbb7"/><stop offset="0.45" stop-color="#e9d5cb"/><stop offset="0.50" stop-color="#dddcdc"/><stop offset="0.55" stop-color="#cfdaea"/><stop offset="0.60" stop-color="#c0d4f5"/><stop offset="0.65" stop-color="#afcafc"/><stop offset="0.70" stop-color="#9ebeff"/><stop offset="0.75" stop-color="#8db0fe"/><stop offset="0.80" stop-color="#7b9ff9"/><stop offset="0.85" stop-color="#6a8bef"/><stop offset="0.90" stop-color="#5977e3"/><stop offset="0.95" stop-color="#4961d2"/><stop offset="1.00" stop-color="#3b4cc0"/></linearGradient></defs>
<rect x="427.20" y="490.30" width="1.70" height="119.50" fill="url(#cb3)"/>
<text x="432.4" y="493.8" font-size="8.80" text-anchor="start" fill="#222" font-family="'Liberation Serif', serif" textLength="16.4" lengthAdjust="spacingAndGlyphs" >High</text>
<text x="432.4" y="613.8" font-size="8.80" text-anchor="start" fill="#222" font-family="'Liberation Serif', serif" textLength="15.0" lengthAdjust="spacingAndGlyphs" >Low</text>
<text x="0" y="0" font-size="9.80" text-anchor="middle" dominant-baseline="central" fill="#222" font-family="'Liberation Serif', serif" textLength="49.5" lengthAdjust="spacingAndGlyphs" transform="translate(451.5,551.3) rotate(-90)">Feature value</text>
<text x="164.0" y="214.3" font-size="9.90" text-anchor="middle" fill="#222" font-family="'Liberation Serif', serif" textLength="113.4" lengthAdjust="spacingAndGlyphs" >SHAP Heatmap for XGBoost</text>
<rect x="78.90" y="293.30" width="4.58" height="30.70" fill="#d5dbe5"/>
<rect x="82.78" y="293.30" width="4.58" height="30.70" fill="#d2dbe8"/>
<rect x="86.67" y="293.30" width="4.58" height="30.70" fill="#bad0f8"/>
<rect x="90.55" y="293.30" width="4.58" height="30.70" fill="#7ea1fa"/>
<rect x="94.44" y="293.30" width="4.58" height="30.70" fill="#8db0fe"/>
<rect x="98.32" y="293.30" width="4.58" height="30.70" fill="#4055c8"/>
<rect x="102.20" y="293.30" width="4.58" height="30.70" fill="#3d50c3"/>
<rect x="106.09" y="293.30" width="4.58" height="30.70" fill="#4961d2"/>
<rect x="109.97" y="293.30" width="4.58" height="30.70" fill="#6384eb"/>
<rect x="113.86" y="293.30" width="4.58" height="30.70" fill="#4f69d9"/>
<rect x="117.74" y="293.30" width="4.58" height="30.70" fill="#4055c8"/>
<rect x="121.62" y="293.30" width="4.58" height="30.70" fill="#6a8bef"/>
<rect x="125.51" y="293.30" width="4.58" height="30.70" fill="#94b6ff"/>
<rect x="129.39" y="293.30" width="4.58" height="30.70" fill="#c0d4f5"/>
<rect x="133.28" y="293.30" width="4.58" height="30.70" fill="#e7d7ce"/>
<rect x="137.16" y="293.30" width="4.58" height="30.70" fill="#ee8468"/>
<rect x="141.05" y="293.30" width="4.58" height="30.70" fill="#ec7f63"/>
<rect x="144.93" y="293.30" width="4.58" height="30.70" fill="#b70d28"/>
<rect x="148.81" y="293.30" width="4.58" height="30.70" fill="#ef886b"/>
<rect x="152.70" y="293.30" width="4.58" height="30.70" fill="#f7b396"/>
<rect x="156.58" y="293.30" width="4.58" height="30.70" fill="#c6d6f1"/>
<rect x="160.47" y="293.30" width="4.58" height="30.70" fill="#97b8ff"/>
<rect x="164.35" y="293.30" width="4.58" height="30.70" fill="#9bbcff"/>
<rect x="168.23" y="293.30" width="4.58" height="30.70" fill="#9bbcff"/>
<rect x="172.12" y="293.30" width="4.58" height="30.70" fill="#82a6fb"/>
<rect x="176.00" y="293.30" width="4.58" height="30.70" fill="#c0d4f5"/>
<rect x="179.89" y="293.30" width="4.58" height="30.70" fill="#e7d7ce"/>
<rect x="183.77" y="293.30" width="4.58" height="30.70" fill="#e7d7ce"/>
<rect x="187.65" y="293.30" width="4.58" height="30.70" fill="#f7b79b"/>
<rect x="191.54" y="293.30" width="4.58" height="30.70" fill="#f7b79b"/>
<rect x="195.42" y="293.30" width="4.58" height="30.70" fill="#f7b79b"/>
<rect x="199.31" y="293.30" width="4.58" height="30.70" fill="#f7ba9f"/>
<rect x="203.19" y="293.30" width="4.58" height="30.70" fill="#f2cbb7"/>
<rect x="207.08" y="293.30" width="4.58" height="30.70" fill="#efcfbf"/>
<rect x="210.96" y="293.30" width="4.58" height="30.70" fill="#e9d5cb"/>
<rect x="214.84" y="293.30" width="4.58" height="30.70" fill="#f3c8b2"/>
<rect x="218.73" y="293.30" width="4.58" height="30.70" fill="#ee8468"/>
<rect x="222.61" y="293.30" width="4.58" height="30.70" fill="#e36c55"/>
<rect x="226.50" y="293.30" width="4.58" height="30.70" fill="#e36c55"/>
<rect x="230.38" y="293.30" width="4.58" height="30.70" fill="#e36c55"/>
<rect x="234.26" y="293.30" width="4.58" height="30.70" fill="#f18d6f"/>
<rect x="238.15" y="293.30" width="4.58" height="30.70" fill="#f18d6f"/>
<rect x="242.03" y="293.30" width="4.58" height="30.70" fill="#cc403a"/>
<rect x="245.92" y="293.30" width="3.88" height="30.70" fill="#b70d28"/>
<rect x="78.90" y="323.30" width="4.58" height="30.70" fill="#c0d4f5"/>
<rect x="82.78" y="323.30" width="4.58" height="30.70" fill="#c0d4f5"/>
<rect x="86.67" y="323.30" width="4.58" height="30.70" fill="#82a6fb"/>
<rect x="90.55" y="323.30" width="4.58" height="30.70" fill="#c3d5f4"/>
<rect x="94.44" y="323.30" width="4.58" height="30.70" fill="#c3d5f4"/>
<rect x="98.32" y="323.30" width="4.58" height="30.70" fill="#c3d5f4"/>
<rect x="102.20" y="323.30" width="4.58" height="30.70" fill="#c3d5f4"/>
<rect x="106.09" y="323.30" width="4.58" height="30.70" fill="#c3d5f4"/>
<rect x="109.97" y="323.30" width="4.58" height="30.70" fill="#c3d5f4"/>
<rect x="113.86" y="323.30" width="4.58" height="30.70" fill="#82a6fb"/>
<rect x="117.74" y="323.30" width="4.58" height="30.70" fill="#e16751"/>
<rect x="121.62" y="323.30" width="4.58" height="30.70" fill="#e36c55"/>
<rect x="125.51" y="323.30" width="4.58" height="30.70" fill="#e16751"/>
<rect x="129.39" y="323.30" width="4.58" height="30.70" fill="#cc403a"/>
<rect x="133.28" y="323.30" width="4.58" height="30.70" fill="#dc5d4a"/>
<rect x="137.16" y="323.30" width="4.58" height="30.70" fill="#dc5d4a"/>
<rect x="141.05" y="323.30" width="4.58" height="30.70" fill="#cc403a"/>
<rect x="144.93" y="323.30" width="4.58" height="30.70" fill="#d95847"/>
<rect x="148.81" y="323.30" width="4.58" height="30.70" fill="#dc5d4a"/>
<rect x="152.70" y="323.30" width="4.58" height="30.70" fill="#dc5d4a"/>
<rect x="156.58" y="323.30" width="4.58" height="30.70" fill="#ef886b"/>
<rect x="160.47" y="323.30" width="4.58" height="30.70" fill="#f18d6f"/>
<rect x="164.35" y="323.30" width="4.58" height="30.70" fill="#ef886b"/>
<rect x="168.23" y="323.30" width="4.58" height="30.70" fill="#f18d6f"/>
<rect x="172.12" y="323.30" width="4.58" height="30.70" fill="#ee8468"/>
<rect x="176.00" y="323.30" width="4.58" height="30.70" fill="#c6d6f1"/>
<rect x="179.89" y="323.30" width="4.58" height="30.70" fill="#82a6fb"/>
<rect x="183.77" y="323.30" width="4.58" height="30.70" fill="#82a6fb"/>
<rect x="187.65" y="323.30" width="4.58" height="30.70" fill="#82a6fb"/>
<rect x="191.54" y="323.30" width="4.58" height="30.70" fill="#c0d4f5"/>
<rect x="195.42" y="323.30" width="4.58" height="30.70" fill="#c0d4f5"/>
<rect x="199.31" y="323.30" width="4.58" height="30.70" fill="#c0d4f5"/>
<rect x="203.19" y="323.30" width="4.58" height="30.70" fill="#8db0fe"/>
<rect x="207.08" y="323.30" width="4.58" height="30.70" fill="#90b2fe"/>
<rect x="210.96" y="323.30" width="4.58" height="30.70" fill="#c0d4f5"/>
<rect x="214.84" y="323.30" width="4.58" height="30.70" fill="#c0d4f5"/>
<rect x="218.73" y="323.30" width="4.58" height="30.70" fill="#c0d4f5"/>
<rect x="222.61" y="323.30" width="4.58" height="30.70" fill="#bcd2f7"/>
<rect x="226.50" y="323.30" width="4.58" height="30.70" fill="#82a6fb"/>
<rect x="230.38" y="323.30" width="4.58" height="30.70" fill="#82a6fb"/>
<rect x="234.26" y="323.30" width="4.58" height="30.70" fill="#82a6fb"/>
<rect x="238.15" y="323.30" width="4.58" height="30.70" fill="#c0d4f5"/>
<rect x="242.03" y="323.30" width="4.58" height="30.70" fill="#94b6ff"/>
<rect x="245.92" y="323.30" width="3.88" height="30.70" fill="#c0d4f5"/>
<rect x="78.90" y="353.30" width="4.58" height="30.70" fill="#f2cbb7"/>
<rect x="82.78" y="353.30" width="4.58" height="30.70" fill="#f2cbb7"/>
<rect x="86.67" y="353.30" width="4.58" height="30.70" fill="#f2cbb7"/>
<rect x="90.55" y="353.30" width="4.58" height="30.70" fill="#f3c8b2"/>
<rect x="94.44" y="353.30" width="4.58" height="30.70" fill="#f29072"/>
<rect x="98.32" y="353.30" width="4.58" height="30.70" fill="#e9d5cb"/>
<rect x="102.20" y="353.30" width="4.58" height="30.70" fill="#f7ba9f"/>
<rect x="106.09" y="353.30" width="4.58" height="30.70" fill="#f7b79b"/>
<rect x="109.97" y="353.30" width="4.58" height="30.70" fill="#f7b396"/>
<rect x="113.86" y="353.30" width="4.58" height="30.70" fill="#f7b396"/>
<rect x="117.74" y="353.30" width="4.58" height="30.70" fill="#ef886b"/>
<rect x="121.62" y="353.30" width="4.58" height="30.70" fill="#ee8468"/>
<rect x="125.51" y="353.30" width="4.58" height="30.70" fill="#ec7f63"/>
<rect x="129.39" y="353.30" width="4.58" height="30.70" fill="#f7b79b"/>
<rect x="133.28" y="353.30" width="4.58" height="30.70" fill="#f7b79b"/>
<rect x="137.16" y="353.30" width="4.58" height="30.70" fill="#f7b79b"/>
<rect x="141.05" y="353.30" width="4.58" height="30.70" fill="#f7b396"/>
<rect x="144.93" y="353.30" width="4.58" height="30.70" fill="#8db0fe"/>
<rect x="148.81" y="353.30" width="4.58" height="30.70" fill="#bad0f8"/>
<rect x="152.70" y="353.30" width="4.58" height="30.70" fill="#4961d2"/>
<rect x="156.58" y="353.30" width="4.58" height="30.70" fill="#4961d2"/>
<rect x="160.47" y="353.30" width="4.58" height="30.70" fill="#465ecf"/>
<rect x="164.35" y="353.30" width="4.58" height="30.70" fill="#82a6fb"/>
<rect x="168.23" y="353.30" width="4.58" height="30.70" fill="#89acfd"/>
<rect x="172.12" y="353.30" width="4.58" height="30.70" fill="#90b2fe"/>
<rect x="176.00" y="353.30" width="4.58" height="30.70" fill="#afcafc"/>
<rect x="179.89" y="353.30" width="4.58" height="30.70" fill="#b3cdfb"/>
<rect x="183.77" y="353.30" width="4.58" height="30.70" fill="#b6cefa"/>
<rect x="187.65" y="353.30" width="4.58" height="30.70" fill="#7597f6"/>
<rect x="191.54" y="353.30" width="4.58" height="30.70" fill="#7597f6"/>
<rect x="195.42" y="353.30" width="4.58" height="30.70" fill="#6c8ff1"/>
<rect x="199.31" y="353.30" width="4.58" height="30.70" fill="#779af7"/>
<rect x="203.19" y="353.30" width="4.58" height="30.70" fill="#f29072"/>
<rect x="207.08" y="353.30" width="4.58" height="30.70" fill="#f29072"/>
<rect x="210.96" y="353.30" width="4.58" height="30.70" fill="#f39577"/>
<rect x="214.84" y="353.30" width="4.58" height="30.70" fill="#f6bda2"/>
<rect x="218.73" y="353.30" width="4.58" height="30.70" fill="#f5c0a7"/>
<rect x="222.61" y="353.30" width="4.58" height="30.70" fill="#efcfbf"/>
<rect x="226.50" y="353.30" width="4.58" height="30.70" fill="#efcfbf"/>
<rect x="230.38" y="353.30" width="4.58" height="30.70" fill="#f1cdba"/>
<rect x="234.26" y="353.30" width="4.58" height="30.70" fill="#f6bda2"/>
<rect x="238.15" y="353.30" width="4.58" height="30.70" fill="#d2dbe8"/>
<rect x="242.03" y="353.30" width="4.58" height="30.70" fill="#d2dbe8"/>
<rect x="245.92" y="353.30" width="3.88" height="30.70" fill="#afcafc"/>
<rect x="78.90" y="383.30" width="4.58" height="30.00" fill="#dddcdc"/>
<rect x="82.78" y="383.30" width="4.58" height="30.00" fill="#dddcdc"/>
<rect x="86.67" y="383.30" width="4.58" height="30.00" fill="#dddcdc"/>
<rect x="90.55" y="383.30" width="4.58" height="30.00" fill="#dadce0"/>
<rect x="94.44" y="383.30" width="4.58" height="30.00" fill="#dadce0"/>
<rect x="98.32" y="383.30" width="4.58" height="30.00" fill="#dddcdc"/>
<rect x="102.20" y="383.30" width="4.58" height="30.00" fill="#dddcdc"/>
<rect x="106.09" y="383.30" width="4.58" height="30.00" fill="#dddcdc"/>
<rect x="109.97" y="383.30" width="4.58" height="30.00" fill="#dddcdc"/>
<rect x="113.86" y="383.30" width="4.58" height="30.00" fill="#dddcdc"/>
<rect x="117.74" y="383.30" width="4.58" height="30.00" fill="#e2dad5"/>
<rect x="121.62" y="383.30" width="4.58" height="30.00" fill="#d2dbe8"/>
<rect x="125.51" y="383.30" width="4.58" height="30.00" fill="#d2dbe8"/>
<rect x="129.39" y="383.30" width="4.58" height="30.00" fill="#e4d9d2"/>
<rect x="133.28" y="383.30" width="4.58" height="30.00" fill="#e4d9d2"/>
<rect x="137.16" y="383.30" width="4.58" height="30.00" fill="#c0d4f5"/>
<rect x="141.05" y="383.30" width="4.58" height="30.00" fill="#e4d9d2"/>
<rect x="144.93" y="383.30" width="4.58" height="30.00" fill="#e4d9d2"/>
<rect x="148.81" y="383.30" width="4.58" height="30.00" fill="#e4d9d2"/>
<rect x="152.70" y="383.30" width="4.58" height="30.00" fill="#e4d9d2"/>
<rect x="156.58" y="383.30" width="4.58" height="30.00" fill="#e4d9d2"/>
<rect x="160.47" y="383.30" width="4.58" height="30.00" fill="#e4d9d2"/>
<rect x="164.35" y="383.30" width="4.58" height="30.00" fill="#e2dad5"/>
<rect x="168.23" y="383.30" width="4.58" height="30.00" fill="#e2dad5"/>
<rect x="172.12" y="383.30" width="4.58" height="30.00" fill="#d7dce3"/>
<rect x="176.00" y="383.30" width="4.58" height="30.00" fill="#dddcdc"/>
<rect x="179.89" y="383.30" width="4.58" height="30.00" fill="#dddcdc"/>
<rect x="183.77" y="383.30" width="4.58" height="30.00" fill="#dddcdc"/>
<rect x="187.65" y="383.30" width="4.58" height="30.00" fill="#dddcdc"/>
<rect x="191.54" y="383.30" width="4.58" height="30.00" fill="#dddcdc"/>
<rect x="195.42" y="383.30" width="4.58" height="30.00" fill="#dddcdc"/>
<rect x="199.31" y="383.30" width="4.58" height="30.00" fill="#dddcdc"/>
<rect x="203.19" y="383.30" width="4.58" height="30.00" fill="#dddcdc"/>
<rect x="207.08" y="383.30" width="4.58" height="30.00" fill="#dddcdc"/>
<rect x="210.96" y="383.30" width="4.58" height="30.00" fill="#dddcdc"/>
<rect x="214.84" y="383.30" width="4.58" height="30.00" fill="#dddcdc"/>
<rect x="218.73" y="383.30" width="4.58" height="30.00" fill="#dddcdc"/>
<rect x="222.61" y="383.30" width="4.58" height="30.00" fill="#dddcdc"/>
<rect x="226.50" y="383.30" width="4.58" height="30.00" fill="#dddcdc"/>
<rect x="230.38" y="383.30" width="4.58" height="30.00" fill="#dddcdc"/>
<rect x="234.26" y="383.30" width="4.58" height="30.00" fill="#dddcdc"/>
<rect x="238.15" y="383.30" width="4.58" height="30.00" fill="#dddcdc"/>
<rect x="242.03" y="383.30" width="4.58" height="30.00" fill="#dddcdc"/>
<rect x="245.92" y="383.30" width="3.88" height="30.00" fill="#dddcdc"/>
<line x1="78.50" y1="293.30" x2="78.50" y2="413.80" stroke="#222" stroke-width="1.00" />
<line x1="250.00" y1="293.30" x2="250.00" y2="413.80" stroke="#222" stroke-width="1.00" />
<line x1="75.60" y1="308.30" x2="78.50" y2="308.30" stroke="#222" stroke-width="0.90" />
<text x="72.2" y="312.3" font-size="11.20" text-anchor="end" fill="#222" font-family="'Liberation Serif', serif" textLength="22.3" lengthAdjust="spacingAndGlyphs" >2s2/L</text>
<line x1="75.60" y1="338.30" x2="78.50" y2="338.30" stroke="#222" stroke-width="0.90" />
<text x="72.2" y="342.3" font-size="11.20" text-anchor="end" fill="#222" font-family="'Liberation Serif', serif" textLength="14.2" lengthAdjust="spacingAndGlyphs" >a/H</text>
<line x1="75.60" y1="368.30" x2="78.50" y2="368.30" stroke="#222" stroke-width="0.90" />
<text x="72.2" y="372.3" font-size="11.20" text-anchor="end" fill="#222" font-family="'Liberation Serif', serif" textLength="15.8" lengthAdjust="spacingAndGlyphs" >L/H</text>
<line x1="75.60" y1="398.30" x2="78.50" y2="398.30" stroke="#222" stroke-width="0.90" />
<text x="72.2" y="402.3" font-size="11.20" text-anchor="end" fill="#222" font-family="'Liberation Serif', serif" textLength="22.3" lengthAdjust="spacingAndGlyphs" >2s1/L</text>
<line x1="80.84" y1="413.30" x2="80.84" y2="416.30" stroke="#222" stroke-width="0.90" />
<text x="80.8" y="424.9" font-size="8.20" text-anchor="middle" fill="#222" font-family="'Liberation Serif', serif" textLength="3.5" lengthAdjust="spacingAndGlyphs" >0</text>
<line x1="119.68" y1="413.30" x2="119.68" y2="416.30" stroke="#222" stroke-width="0.90" />
<text x="119.7" y="424.9" font-size="8.20" text-anchor="middle" fill="#222" font-family="'Liberation Serif', serif" textLength="7.1" lengthAdjust="spacingAndGlyphs" >10</text>
<line x1="158.52" y1="413.30" x2="158.52" y2="416.30" stroke="#222" stroke-width="0.90" />
<text x="158.5" y="424.9" font-size="8.20" text-anchor="middle" fill="#222" font-family="'Liberation Serif', serif" textLength="7.1" lengthAdjust="spacingAndGlyphs" >20</text>
<line x1="197.36" y1="413.30" x2="197.36" y2="416.30" stroke="#222" stroke-width="0.90" />
<text x="197.4" y="424.9" font-size="8.20" text-anchor="middle" fill="#222" font-family="'Liberation Serif', serif" textLength="7.1" lengthAdjust="spacingAndGlyphs" >30</text>
<line x1="236.21" y1="413.30" x2="236.21" y2="416.30" stroke="#222" stroke-width="0.90" />
<text x="236.2" y="424.9" font-size="8.20" text-anchor="middle" fill="#222" font-family="'Liberation Serif', serif" textLength="7.1" lengthAdjust="spacingAndGlyphs" >40</text>
<text x="164.3" y="435.8" font-size="8.90" text-anchor="middle" fill="#222" font-family="'Liberation Serif', serif" textLength="28.8" lengthAdjust="spacingAndGlyphs" >Instances</text>
<rect x="250.30" y="297.80" width="7.70" height="20.40" fill="#000"/>
<rect x="250.30" y="328.00" width="7.40" height="20.60" fill="#000"/>
<rect x="250.30" y="357.60" width="6.30" height="20.70" fill="#000"/>
<line x1="79.10" y1="263.30" x2="249.30" y2="263.30" stroke="#b0b0b0" stroke-width="0.60" stroke-dasharray="1 1"/>
<polyline points="80.8,264.2 84.7,264.9 88.6,271.6 92.5,273.4 96.4,267.9 100.3,279.6 104.1,277.7 108.0,274.0 111.9,272.5 115.8,278.0 119.7,261.8 123.6,255.7 127.5,252.0 131.3,248.9 135.2,245.8 139.1,240.3 143.0,233.6 146.9,242.8 150.8,244.0 154.6,255.7 158.5,271.0 162.4,277.1 166.3,270.4 170.2,269.5 174.1,271.0 177.9,274.0 181.8,274.0 185.7,274.0 189.6,275.0 193.5,271.6 197.4,271.6 201.2,270.4 205.1,261.2 209.0,260.3 212.9,258.1 216.8,258.7 220.7,254.4 224.6,255.7 228.4,258.7 232.3,258.7 236.2,259.3 240.1,261.8 244.0,260.3 247.9,257.2" fill="none" stroke="#1a1a1a" stroke-width="1.1" stroke-linejoin="round"/>
<text x="55.8" y="267.4" font-size="9.8" fill="#222" font-family="'Liberation Sans', sans-serif" textLength="17.0" lengthAdjust="spacingAndGlyphs"><tspan font-style="italic">f</tspan>(<tspan font-style="italic">x</tspan>)</text>
<defs><linearGradient id="cb4" x1="0" y1="0" x2="0" y2="1"><stop offset="0.00" stop-color="#b40426"/><stop offset="0.05" stop-color="#c53334"/><stop offset="0.10" stop-color="#d65244"/><stop offset="0.15" stop-color="#e36c55"/><stop offset="0.20" stop-color="#ee8468"/><stop offset="0.25" stop-color="#f4987a"/><stop offset="0.30" stop-color="#f7ac8e"/><stop offset="0.35" stop-color="#f6bda2"/><stop offset="0.40" stop-color="#f2cbb7"/><stop offset="0.45" stop-color="#e9d5cb"/><stop offset="0.50" stop-color="#dddcdc"/><stop offset="0.55" stop-color="#cfdaea"/><stop offset="0.60" stop-color="#c0d4f5"/><stop offset="0.65" stop-color="#afcafc"/><stop offset="0.70" stop-color="#9ebeff"/><stop offset="0.75" stop-color="#8db0fe"/><stop offset="0.80" stop-color="#7b9ff9"/><stop offset="0.85" stop-color="#6a8bef"/><stop offset="0.90" stop-color="#5977e3"/><stop offset="0.95" stop-color="#4961d2"/><stop offset="1.00" stop-color="#3b4cc0"/></linearGradient></defs>
<rect x="268.90" y="238.90" width="2.10" height="153.40" fill="url(#cb4)"/>
<text x="273.5" y="242.4" font-size="9.00" text-anchor="start" fill="#222" font-family="'Liberation Serif', serif" textLength="14.2" lengthAdjust="spacingAndGlyphs" >0.79</text>
<text x="273.5" y="395.8" font-size="9.00" text-anchor="start" fill="#222" font-family="'Liberation Serif', serif" textLength="18.7" lengthAdjust="spacingAndGlyphs" >−0.79</text>
<text x="0" y="0" font-size="10.50" text-anchor="middle" dominant-baseline="central" fill="#222" font-family="'Liberation Serif', serif" textLength="149.4" lengthAdjust="spacingAndGlyphs" transform="translate(290.2,316.3) rotate(-90)">SHAP value (impact on model output)</text>
<text x="501.7" y="199.9" font-size="11.00" text-anchor="middle" fill="#222" font-family="'Liberation Serif', serif" textLength="123.7" lengthAdjust="spacingAndGlyphs" >SHAP Heatmap for XGBoost</text>
<rect x="410.30" y="285.10" width="4.88" height="32.73" fill="#b70d28"/>
<rect x="414.48" y="285.10" width="4.88" height="32.73" fill="#b70d28"/>
<rect x="418.65" y="285.10" width="4.88" height="32.73" fill="#c53334"/>
<rect x="422.83" y="285.10" width="4.88" height="32.73" fill="#dc5d4a"/>
<rect x="427.01" y="285.10" width="4.88" height="32.73" fill="#dc5d4a"/>
<rect x="431.19" y="285.10" width="4.88" height="32.73" fill="#e36c55"/>
<rect x="435.36" y="285.10" width="4.88" height="32.73" fill="#ee8468"/>
<rect x="439.54" y="285.10" width="4.88" height="32.73" fill="#bb1b2c"/>
<rect x="443.72" y="285.10" width="4.88" height="32.73" fill="#f29072"/>
<rect x="447.90" y="285.10" width="4.88" height="32.73" fill="#f7a98b"/>
<rect x="452.07" y="285.10" width="4.88" height="32.73" fill="#e7d7ce"/>
<rect x="456.25" y="285.10" width="4.88" height="32.73" fill="#f7b093"/>
<rect x="460.43" y="285.10" width="4.88" height="32.73" fill="#f18d6f"/>
<rect x="464.60" y="285.10" width="4.88" height="32.73" fill="#f6bda2"/>
<rect x="468.78" y="285.10" width="4.88" height="32.73" fill="#f7b79b"/>
<rect x="472.96" y="285.10" width="4.88" height="32.73" fill="#f5c0a7"/>
<rect x="477.14" y="285.10" width="4.88" height="32.73" fill="#f7b79b"/>
<rect x="481.31" y="285.10" width="4.88" height="32.73" fill="#e2dad5"/>
<rect x="485.49" y="285.10" width="4.88" height="32.73" fill="#dddcdc"/>
<rect x="489.67" y="285.10" width="4.88" height="32.73" fill="#dddcdc"/>
<rect x="493.85" y="285.10" width="4.88" height="32.73" fill="#d5dbe5"/>
<rect x="498.02" y="285.10" width="4.88" height="32.73" fill="#bcd2f7"/>
<rect x="502.20" y="285.10" width="4.88" height="32.73" fill="#ccd9ed"/>
<rect x="506.38" y="285.10" width="4.88" height="32.73" fill="#ccd9ed"/>
<rect x="510.55" y="285.10" width="4.88" height="32.73" fill="#d7dce3"/>
<rect x="514.73" y="285.10" width="4.88" height="32.73" fill="#9bbcff"/>
<rect x="518.91" y="285.10" width="4.88" height="32.73" fill="#97b8ff"/>
<rect x="523.09" y="285.10" width="4.88" height="32.73" fill="#97b8ff"/>
<rect x="527.26" y="285.10" width="4.88" height="32.73" fill="#8db0fe"/>
<rect x="531.44" y="285.10" width="4.88" height="32.73" fill="#85a8fc"/>
<rect x="535.62" y="285.10" width="4.88" height="32.73" fill="#82a6fb"/>
<rect x="539.80" y="285.10" width="4.88" height="32.73" fill="#82a6fb"/>
<rect x="543.97" y="285.10" width="4.88" height="32.73" fill="#82a6fb"/>
<rect x="548.15" y="285.10" width="4.88" height="32.73" fill="#82a6fb"/>
<rect x="552.33" y="285.10" width="4.88" height="32.73" fill="#6384eb"/>
<rect x="556.50" y="285.10" width="4.88" height="32.73" fill="#465ecf"/>
<rect x="560.68" y="285.10" width="4.88" height="32.73" fill="#5977e3"/>
<rect x="564.86" y="285.10" width="4.88" height="32.73" fill="#b6cefa"/>
<rect x="569.04" y="285.10" width="4.88" height="32.73" fill="#a9c6fd"/>
<rect x="573.21" y="285.10" width="4.88" height="32.73" fill="#9bbcff"/>
<rect x="577.39" y="285.10" width="4.88" height="32.73" fill="#97b8ff"/>
<rect x="581.57" y="285.10" width="4.88" height="32.73" fill="#94b6ff"/>
<rect x="585.75" y="285.10" width="4.88" height="32.73" fill="#c6d6f1"/>
<rect x="589.92" y="285.10" width="4.18" height="32.73" fill="#c3d5f4"/>
<rect x="410.30" y="317.13" width="4.88" height="32.73" fill="#9ebeff"/>
<rect x="414.48" y="317.13" width="4.88" height="32.73" fill="#a2c1ff"/>
<rect x="418.65" y="317.13" width="4.88" height="32.73" fill="#9ebeff"/>
<rect x="422.83" y="317.13" width="4.88" height="32.73" fill="#97b8ff"/>
<rect x="427.01" y="317.13" width="4.88" height="32.73" fill="#97b8ff"/>
<rect x="431.19" y="317.13" width="4.88" height="32.73" fill="#9bbcff"/>
<rect x="435.36" y="317.13" width="4.88" height="32.73" fill="#dadce0"/>
<rect x="439.54" y="317.13" width="4.88" height="32.73" fill="#dfdbd9"/>
<rect x="443.72" y="317.13" width="4.88" height="32.73" fill="#94b6ff"/>
<rect x="447.90" y="317.13" width="4.88" height="32.73" fill="#97b8ff"/>
<rect x="452.07" y="317.13" width="4.88" height="32.73" fill="#e36c55"/>
<rect x="456.25" y="317.13" width="4.88" height="32.73" fill="#e36c55"/>
<rect x="460.43" y="317.13" width="4.88" height="32.73" fill="#f6a586"/>
<rect x="464.60" y="317.13" width="4.88" height="32.73" fill="#f7a98b"/>
<rect x="468.78" y="317.13" width="4.88" height="32.73" fill="#f6a283"/>
<rect x="472.96" y="317.13" width="4.88" height="32.73" fill="#f7a98b"/>
<rect x="477.14" y="317.13" width="4.88" height="32.73" fill="#c0d4f5"/>
<rect x="481.31" y="317.13" width="4.88" height="32.73" fill="#c6d6f1"/>
<rect x="485.49" y="317.13" width="4.88" height="32.73" fill="#c0d4f5"/>
<rect x="489.67" y="317.13" width="4.88" height="32.73" fill="#c3d5f4"/>
<rect x="493.85" y="317.13" width="4.88" height="32.73" fill="#ccd9ed"/>
<rect x="498.02" y="317.13" width="4.88" height="32.73" fill="#cfdaea"/>
<rect x="502.20" y="317.13" width="4.88" height="32.73" fill="#a5c3fe"/>
<rect x="506.38" y="317.13" width="4.88" height="32.73" fill="#a5c3fe"/>
<rect x="510.55" y="317.13" width="4.88" height="32.73" fill="#a2c1ff"/>
<rect x="514.73" y="317.13" width="4.88" height="32.73" fill="#c6d6f1"/>
<rect x="518.91" y="317.13" width="4.88" height="32.73" fill="#c6d6f1"/>
<rect x="523.09" y="317.13" width="4.88" height="32.73" fill="#c6d6f1"/>
<rect x="527.26" y="317.13" width="4.88" height="32.73" fill="#c6d6f1"/>
<rect x="531.44" y="317.13" width="4.88" height="32.73" fill="#d7dce3"/>
<rect x="535.62" y="317.13" width="4.88" height="32.73" fill="#dadce0"/>
<rect x="539.80" y="317.13" width="4.88" height="32.73" fill="#dddcdc"/>
<rect x="543.97" y="317.13" width="4.88" height="32.73" fill="#f2cbb7"/>
<rect x="548.15" y="317.13" width="4.88" height="32.73" fill="#efcfbf"/>
<rect x="552.33" y="317.13" width="4.88" height="32.73" fill="#edd2c3"/>
<rect x="556.50" y="317.13" width="4.88" height="32.73" fill="#f5c0a7"/>
<rect x="560.68" y="317.13" width="4.88" height="32.73" fill="#f7b79b"/>
<rect x="564.86" y="317.13" width="4.88" height="32.73" fill="#ee8468"/>
<rect x="569.04" y="317.13" width="4.88" height="32.73" fill="#f29072"/>
<rect x="573.21" y="317.13" width="4.88" height="32.73" fill="#ef886b"/>
<rect x="577.39" y="317.13" width="4.88" height="32.73" fill="#f39577"/>
<rect x="581.57" y="317.13" width="4.88" height="32.73" fill="#f39577"/>
<rect x="585.75" y="317.13" width="4.88" height="32.73" fill="#f5c2aa"/>
<rect x="589.92" y="317.13" width="4.18" height="32.73" fill="#f3c8b2"/>
<rect x="410.30" y="349.16" width="4.88" height="32.73" fill="#e9d5cb"/>
<rect x="414.48" y="349.16" width="4.88" height="32.73" fill="#dfdbd9"/>
<rect x="418.65" y="349.16" width="4.88" height="32.73" fill="#dfdbd9"/>
<rect x="422.83" y="349.16" width="4.88" height="32.73" fill="#e4d9d2"/>
<rect x="427.01" y="349.16" width="4.88" height="32.73" fill="#d7dce3"/>
<rect x="431.19" y="349.16" width="4.88" height="32.73" fill="#d5dbe5"/>
<rect x="435.36" y="349.16" width="4.88" height="32.73" fill="#dddcdc"/>
<rect x="439.54" y="349.16" width="4.88" height="32.73" fill="#dfdbd9"/>
<rect x="443.72" y="349.16" width="4.88" height="32.73" fill="#e4d9d2"/>
<rect x="447.90" y="349.16" width="4.88" height="32.73" fill="#dadce0"/>
<rect x="452.07" y="349.16" width="4.88" height="32.73" fill="#e9d5cb"/>
<rect x="456.25" y="349.16" width="4.88" height="32.73" fill="#e9d5cb"/>
<rect x="460.43" y="349.16" width="4.88" height="32.73" fill="#e9d5cb"/>
<rect x="464.60" y="349.16" width="4.88" height="32.73" fill="#e7d7ce"/>
<rect x="468.78" y="349.16" width="4.88" height="32.73" fill="#e9d5cb"/>
<rect x="472.96" y="349.16" width="4.88" height="32.73" fill="#d5dbe5"/>
<rect x="477.14" y="349.16" width="4.88" height="32.73" fill="#e2dad5"/>
<rect x="481.31" y="349.16" width="4.88" height="32.73" fill="#d5dbe5"/>
<rect x="485.49" y="349.16" width="4.88" height="32.73" fill="#d5dbe5"/>
<rect x="489.67" y="349.16" width="4.88" height="32.73" fill="#d7dce3"/>
<rect x="493.85" y="349.16" width="4.88" height="32.73" fill="#e9d5cb"/>
<rect x="498.02" y="349.16" width="4.88" height="32.73" fill="#dddcdc"/>
<rect x="502.20" y="349.16" width="4.88" height="32.73" fill="#d7dce3"/>
<rect x="506.38" y="349.16" width="4.88" height="32.73" fill="#d7dce3"/>
<rect x="510.55" y="349.16" width="4.88" height="32.73" fill="#d7dce3"/>
<rect x="514.73" y="349.16" width="4.88" height="32.73" fill="#dddcdc"/>
<rect x="518.91" y="349.16" width="4.88" height="32.73" fill="#dddcdc"/>
<rect x="523.09" y="349.16" width="4.88" height="32.73" fill="#dddcdc"/>
<rect x="527.26" y="349.16" width="4.88" height="32.73" fill="#dddcdc"/>
<rect x="531.44" y="349.16" width="4.88" height="32.73" fill="#dddcdc"/>
<rect x="535.62" y="349.16" width="4.88" height="32.73" fill="#dddcdc"/>
<rect x="539.80" y="349.16" width="4.88" height="32.73" fill="#dddcdc"/>
<rect x="543.97" y="349.16" width="4.88" height="32.73" fill="#e4d9d2"/>
<rect x="548.15" y="349.16" width="4.88" height="32.73" fill="#d7dce3"/>
<rect x="552.33" y="349.16" width="4.88" height="32.73" fill="#d7dce3"/>
<rect x="556.50" y="349.16" width="4.88" height="32.73" fill="#d7dce3"/>
<rect x="560.68" y="349.16" width="4.88" height="32.73" fill="#e2dad5"/>
<rect x="564.86" y="349.16" width="4.88" height="32.73" fill="#dddcdc"/>
<rect x="569.04" y="349.16" width="4.88" height="32.73" fill="#dddcdc"/>
<rect x="573.21" y="349.16" width="4.88" height="32.73" fill="#dddcdc"/>
<rect x="577.39" y="349.16" width="4.88" height="32.73" fill="#dddcdc"/>
<rect x="581.57" y="349.16" width="4.88" height="32.73" fill="#d5dbe5"/>
<rect x="585.75" y="349.16" width="4.88" height="32.73" fill="#d5dbe5"/>
<rect x="589.92" y="349.16" width="4.18" height="32.73" fill="#d5dbe5"/>
<rect x="410.30" y="381.19" width="4.88" height="32.03" fill="#e4d9d2"/>
<rect x="414.48" y="381.19" width="4.88" height="32.03" fill="#cfdaea"/>
<rect x="418.65" y="381.19" width="4.88" height="32.03" fill="#cfdaea"/>
<rect x="422.83" y="381.19" width="4.88" height="32.03" fill="#d2dbe8"/>
<rect x="427.01" y="381.19" width="4.88" height="32.03" fill="#e4d9d2"/>
<rect x="431.19" y="381.19" width="4.88" height="32.03" fill="#e4d9d2"/>
<rect x="435.36" y="381.19" width="4.88" height="32.03" fill="#e4d9d2"/>
<rect x="439.54" y="381.19" width="4.88" height="32.03" fill="#e2dad5"/>
<rect x="443.72" y="381.19" width="4.88" height="32.03" fill="#d5dbe5"/>
<rect x="447.90" y="381.19" width="4.88" height="32.03" fill="#dadce0"/>
<rect x="452.07" y="381.19" width="4.88" height="32.03" fill="#e4d9d2"/>
<rect x="456.25" y="381.19" width="4.88" height="32.03" fill="#cad8ef"/>
<rect x="460.43" y="381.19" width="4.88" height="32.03" fill="#cad8ef"/>
<rect x="464.60" y="381.19" width="4.88" height="32.03" fill="#ccd9ed"/>
<rect x="468.78" y="381.19" width="4.88" height="32.03" fill="#e4d9d2"/>
<rect x="472.96" y="381.19" width="4.88" height="32.03" fill="#e4d9d2"/>
<rect x="477.14" y="381.19" width="4.88" height="32.03" fill="#e2dad5"/>
<rect x="481.31" y="381.19" width="4.88" height="32.03" fill="#dddcdc"/>
<rect x="485.49" y="381.19" width="4.88" height="32.03" fill="#dadce0"/>
<rect x="489.67" y="381.19" width="4.88" height="32.03" fill="#dddcdc"/>
<rect x="493.85" y="381.19" width="4.88" height="32.03" fill="#e2dad5"/>
<rect x="498.02" y="381.19" width="4.88" height="32.03" fill="#dddcdc"/>
<rect x="502.20" y="381.19" width="4.88" height="32.03" fill="#dddcdc"/>
<rect x="506.38" y="381.19" width="4.88" height="32.03" fill="#e2dad5"/>
<rect x="510.55" y="381.19" width="4.88" height="32.03" fill="#e2dad5"/>
<rect x="514.73" y="381.19" width="4.88" height="32.03" fill="#e2dad5"/>
<rect x="518.91" y="381.19" width="4.88" height="32.03" fill="#e2dad5"/>
<rect x="523.09" y="381.19" width="4.88" height="32.03" fill="#e2dad5"/>
<rect x="527.26" y="381.19" width="4.88" height="32.03" fill="#e2dad5"/>
<rect x="531.44" y="381.19" width="4.88" height="32.03" fill="#dddcdc"/>
<rect x="535.62" y="381.19" width="4.88" height="32.03" fill="#dddcdc"/>
<rect x="539.80" y="381.19" width="4.88" height="32.03" fill="#e2dad5"/>
<rect x="543.97" y="381.19" width="4.88" height="32.03" fill="#e2dad5"/>
<rect x="548.15" y="381.19" width="4.88" height="32.03" fill="#e2dad5"/>
<rect x="552.33" y="381.19" width="4.88" height="32.03" fill="#e2dad5"/>
<rect x="556.50" y="381.19" width="4.88" height="32.03" fill="#dddcdc"/>
<rect x="560.68" y="381.19" width="4.88" height="32.03" fill="#dddcdc"/>
<rect x="564.86" y="381.19" width="4.88" height="32.03" fill="#e2dad5"/>
<rect x="569.04" y="381.19" width="4.88" height="32.03" fill="#dadce0"/>
<rect x="573.21" y="381.19" width="4.88" height="32.03" fill="#dadce0"/>
<rect x="577.39" y="381.19" width="4.88" height="32.03" fill="#dadce0"/>
<rect x="581.57" y="381.19" width="4.88" height="32.03" fill="#dadce0"/>
<rect x="585.75" y="381.19" width="4.88" height="32.03" fill="#dadce0"/>
<rect x="589.92" y="381.19" width="4.18" height="32.03" fill="#dadce0"/>
<line x1="409.90" y1="285.10" x2="409.90" y2="413.72" stroke="#222" stroke-width="1.00" />
<line x1="594.30" y1="285.10" x2="594.30" y2="413.72" stroke="#222" stroke-width="1.00" />
<line x1="407.00" y1="301.12" x2="409.90" y2="301.12" stroke="#222" stroke-width="0.90" />
<text x="404.0" y="305.7" font-size="12.00" text-anchor="end" fill="#222" font-family="'Liberation Serif', serif" textLength="25.0" lengthAdjust="spacingAndGlyphs" >2s2/L</text>
<line x1="407.00" y1="333.15" x2="409.90" y2="333.15" stroke="#222" stroke-width="0.90" />
<text x="404.0" y="337.7" font-size="12.00" text-anchor="end" fill="#222" font-family="'Liberation Serif', serif" textLength="17.7" lengthAdjust="spacingAndGlyphs" >L/H</text>
<line x1="407.00" y1="365.18" x2="409.90" y2="365.18" stroke="#222" stroke-width="0.90" />
<text x="404.0" y="369.8" font-size="12.00" text-anchor="end" fill="#222" font-family="'Liberation Serif', serif" textLength="15.9" lengthAdjust="spacingAndGlyphs" >a/H</text>
<line x1="407.00" y1="397.21" x2="409.90" y2="397.21" stroke="#222" stroke-width="0.90" />
<text x="404.0" y="401.8" font-size="12.00" text-anchor="end" fill="#222" font-family="'Liberation Serif', serif" textLength="25.0" lengthAdjust="spacingAndGlyphs" >2s1/L</text>
<line x1="412.39" y1="413.22" x2="412.39" y2="416.22" stroke="#222" stroke-width="0.90" />
<text x="412.4" y="426.6" font-size="9.00" text-anchor="middle" fill="#222" font-family="'Liberation Serif', serif" textLength="4.0" lengthAdjust="spacingAndGlyphs" >0</text>
<line x1="454.16" y1="413.22" x2="454.16" y2="416.22" stroke="#222" stroke-width="0.90" />
<text x="454.2" y="426.6" font-size="9.00" text-anchor="middle" fill="#222" font-family="'Liberation Serif', serif" textLength="7.9" lengthAdjust="spacingAndGlyphs" >10</text>
<line x1="495.93" y1="413.22" x2="495.93" y2="416.22" stroke="#222" stroke-width="0.90" />
<text x="495.9" y="426.6" font-size="9.00" text-anchor="middle" fill="#222" font-family="'Liberation Serif', serif" textLength="7.9" lengthAdjust="spacingAndGlyphs" >20</text>
<line x1="537.71" y1="413.22" x2="537.71" y2="416.22" stroke="#222" stroke-width="0.90" />
<text x="537.7" y="426.6" font-size="9.00" text-anchor="middle" fill="#222" font-family="'Liberation Serif', serif" textLength="7.9" lengthAdjust="spacingAndGlyphs" >30</text>
<line x1="579.48" y1="413.22" x2="579.48" y2="416.22" stroke="#222" stroke-width="0.90" />
<text x="579.5" y="426.6" font-size="9.00" text-anchor="middle" fill="#222" font-family="'Liberation Serif', serif" textLength="7.9" lengthAdjust="spacingAndGlyphs" >40</text>
<text x="502.2" y="438.6" font-size="9.30" text-anchor="middle" fill="#222" font-family="'Liberation Serif', serif" textLength="31.6" lengthAdjust="spacingAndGlyphs" >Instances</text>
<rect x="594.60" y="290.10" width="8.90" height="21.60" fill="#000"/>
<rect x="594.60" y="322.40" width="5.60" height="21.50" fill="#000"/>
<line x1="410.50" y1="252.50" x2="593.60" y2="252.50" stroke="#b0b0b0" stroke-width="0.60" stroke-dasharray="1 1"/>
<polyline points="412.4,222.7 416.6,236.2 420.7,240.3 424.9,244.2 429.1,243.5 433.3,245.5 437.5,234.5 441.6,221.7 445.8,248.4 450.0,256.4 454.2,224.3 458.3,220.4 462.5,222.7 466.7,230.7 470.9,220.1 475.0,233.9 479.2,248.4 483.4,258.0 487.6,261.2 491.8,261.2 495.9,258.6 500.1,266.0 504.3,269.9 508.5,270.2 512.6,268.0 516.8,271.8 521.0,271.8 525.2,271.8 529.4,272.1 533.5,272.1 537.7,272.1 541.9,272.1 546.1,261.8 550.2,266.0 554.4,272.4 558.6,271.8 562.8,262.8 566.9,240.3 571.1,248.4 575.3,252.5 579.5,253.2 583.7,254.1 587.8,255.4 592.0,251.6" fill="none" stroke="#1a1a1a" stroke-width="1.1" stroke-linejoin="round"/>
<text x="385.2" y="257.3" font-size="11.3" fill="#222" font-family="'Liberation Sans', sans-serif" textLength="18.6" lengthAdjust="spacingAndGlyphs"><tspan font-style="italic">f</tspan>(<tspan font-style="italic">x</tspan>)</text>
<defs><linearGradient id="cb5" x1="0" y1="0" x2="0" y2="1"><stop offset="0.00" stop-color="#b40426"/><stop offset="0.05" stop-color="#c53334"/><stop offset="0.10" stop-color="#d65244"/><stop offset="0.15" stop-color="#e36c55"/><stop offset="0.20" stop-color="#ee8468"/><stop offset="0.25" stop-color="#f4987a"/><stop offset="0.30" stop-color="#f7ac8e"/><stop offset="0.35" stop-color="#f6bda2"/><stop offset="0.40" stop-color="#f2cbb7"/><stop offset="0.45" stop-color="#e9d5cb"/><stop offset="0.50" stop-color="#dddcdc"/><stop offset="0.55" stop-color="#cfdaea"/><stop offset="0.60" stop-color="#c0d4f5"/><stop offset="0.65" stop-color="#afcafc"/><stop offset="0.70" stop-color="#9ebeff"/><stop offset="0.75" stop-color="#8db0fe"/><stop offset="0.80" stop-color="#7b9ff9"/><stop offset="0.85" stop-color="#6a8bef"/><stop offset="0.90" stop-color="#5977e3"/><stop offset="0.95" stop-color="#4961d2"/><stop offset="1.00" stop-color="#3b4cc0"/></linearGradient></defs>
<rect x="614.90" y="225.90" width="2.00" height="165.50" fill="url(#cb5)"/>
<text x="619.4" y="229.4" font-size="9.50" text-anchor="start" fill="#222" font-family="'Liberation Serif', serif" textLength="19.2" lengthAdjust="spacingAndGlyphs" >1.445</text>
<text x="619.4" y="394.9" font-size="9.50" text-anchor="start" fill="#222" font-family="'Liberation Serif', serif" textLength="24.1" lengthAdjust="spacingAndGlyphs" >−1.445</text>
<text x="0" y="0" font-size="11.20" text-anchor="middle" dominant-baseline="central" fill="#222" font-family="'Liberation Serif', serif" textLength="166.0" lengthAdjust="spacingAndGlyphs" transform="translate(642.3,311.8) rotate(-90)">SHAP value (impact on model output)</text>
<text x="331.8" y="679.5" font-size="11.00" text-anchor="middle" fill="#222" font-family="'Liberation Serif', serif" textLength="123.7" lengthAdjust="spacingAndGlyphs" >SHAP Heatmap for XGBoost</text>
<rect x="240.10" y="764.40" width="4.88" height="32.80" fill="#3b4cc0"/>
<rect x="244.28" y="764.40" width="4.88" height="32.80" fill="#4055c8"/>
<rect x="248.46" y="764.40" width="4.88" height="32.80" fill="#4961d2"/>
<rect x="252.64" y="764.40" width="4.88" height="32.80" fill="#6384eb"/>
<rect x="256.82" y="764.40" width="4.88" height="32.80" fill="#6384eb"/>
<rect x="261.00" y="764.40" width="4.88" height="32.80" fill="#4961d2"/>
<rect x="265.18" y="764.40" width="4.88" height="32.80" fill="#82a6fb"/>
<rect x="269.36" y="764.40" width="4.88" height="32.80" fill="#afcafc"/>
<rect x="273.54" y="764.40" width="4.88" height="32.80" fill="#a5c3fe"/>
<rect x="277.72" y="764.40" width="4.88" height="32.80" fill="#97b8ff"/>
<rect x="281.90" y="764.40" width="4.88" height="32.80" fill="#7ea1fa"/>
<rect x="286.07" y="764.40" width="4.88" height="32.80" fill="#e2dad5"/>
<rect x="290.25" y="764.40" width="4.88" height="32.80" fill="#e2dad5"/>
<rect x="294.43" y="764.40" width="4.88" height="32.80" fill="#e7d7ce"/>
<rect x="298.61" y="764.40" width="4.88" height="32.80" fill="#edd2c3"/>
<rect x="302.79" y="764.40" width="4.88" height="32.80" fill="#f1cdba"/>
<rect x="306.97" y="764.40" width="4.88" height="32.80" fill="#f1cdba"/>
<rect x="311.15" y="764.40" width="4.88" height="32.80" fill="#ebd3c6"/>
<rect x="315.33" y="764.40" width="4.88" height="32.80" fill="#f5c0a7"/>
<rect x="319.51" y="764.40" width="4.88" height="32.80" fill="#f7ba9f"/>
<rect x="323.69" y="764.40" width="4.88" height="32.80" fill="#f39577"/>
<rect x="327.87" y="764.40" width="4.88" height="32.80" fill="#f4987a"/>
<rect x="332.05" y="764.40" width="4.88" height="32.80" fill="#f6a586"/>
<rect x="336.23" y="764.40" width="4.88" height="32.80" fill="#f6a586"/>
<rect x="340.41" y="764.40" width="4.88" height="32.80" fill="#f6a283"/>
<rect x="344.59" y="764.40" width="4.88" height="32.80" fill="#f18d6f"/>
<rect x="348.77" y="764.40" width="4.88" height="32.80" fill="#f5c2aa"/>
<rect x="352.95" y="764.40" width="4.88" height="32.80" fill="#f5c2aa"/>
<rect x="357.13" y="764.40" width="4.88" height="32.80" fill="#d44e41"/>
<rect x="361.31" y="764.40" width="4.88" height="32.80" fill="#d44e41"/>
<rect x="365.49" y="764.40" width="4.88" height="32.80" fill="#ee8468"/>
<rect x="369.67" y="764.40" width="4.88" height="32.80" fill="#ef886b"/>
<rect x="373.85" y="764.40" width="4.88" height="32.80" fill="#f18d6f"/>
<rect x="378.02" y="764.40" width="4.88" height="32.80" fill="#f18d6f"/>
<rect x="382.20" y="764.40" width="4.88" height="32.80" fill="#f18d6f"/>
<rect x="386.38" y="764.40" width="4.88" height="32.80" fill="#f29072"/>
<rect x="390.56" y="764.40" width="4.88" height="32.80" fill="#f7ac8e"/>
<rect x="394.74" y="764.40" width="4.88" height="32.80" fill="#f7b79b"/>
<rect x="398.92" y="764.40" width="4.88" height="32.80" fill="#d5dbe5"/>
<rect x="403.10" y="764.40" width="4.88" height="32.80" fill="#a9c6fd"/>
<rect x="407.28" y="764.40" width="4.88" height="32.80" fill="#82a6fb"/>
<rect x="411.46" y="764.40" width="4.88" height="32.80" fill="#a9c6fd"/>
<rect x="415.64" y="764.40" width="4.88" height="32.80" fill="#a9c6fd"/>
<rect x="419.82" y="764.40" width="4.18" height="32.80" fill="#bad0f8"/>
<rect x="240.10" y="796.50" width="4.88" height="32.80" fill="#f7ac8e"/>
<rect x="244.28" y="796.50" width="4.88" height="32.80" fill="#f7ac8e"/>
<rect x="248.46" y="796.50" width="4.88" height="32.80" fill="#f18d6f"/>
<rect x="252.64" y="796.50" width="4.88" height="32.80" fill="#f18d6f"/>
<rect x="256.82" y="796.50" width="4.88" height="32.80" fill="#f39577"/>
<rect x="261.00" y="796.50" width="4.88" height="32.80" fill="#ebd3c6"/>
<rect x="265.18" y="796.50" width="4.88" height="32.80" fill="#efcfbf"/>
<rect x="269.36" y="796.50" width="4.88" height="32.80" fill="#f5c2aa"/>
<rect x="273.54" y="796.50" width="4.88" height="32.80" fill="#f29072"/>
<rect x="277.72" y="796.50" width="4.88" height="32.80" fill="#ee8468"/>
<rect x="281.90" y="796.50" width="4.88" height="32.80" fill="#f6a283"/>
<rect x="286.07" y="796.50" width="4.88" height="32.80" fill="#f5c2aa"/>
<rect x="290.25" y="796.50" width="4.88" height="32.80" fill="#f5c2aa"/>
<rect x="294.43" y="796.50" width="4.88" height="32.80" fill="#f5c2aa"/>
<rect x="298.61" y="796.50" width="4.88" height="32.80" fill="#f5c0a7"/>
<rect x="302.79" y="796.50" width="4.88" height="32.80" fill="#f7b79b"/>
<rect x="306.97" y="796.50" width="4.88" height="32.80" fill="#f7b79b"/>
<rect x="311.15" y="796.50" width="4.88" height="32.80" fill="#f7a98b"/>
<rect x="315.33" y="796.50" width="4.88" height="32.80" fill="#f3c8b2"/>
<rect x="319.51" y="796.50" width="4.88" height="32.80" fill="#f3c8b2"/>
<rect x="323.69" y="796.50" width="4.88" height="32.80" fill="#f3c8b2"/>
<rect x="327.87" y="796.50" width="4.88" height="32.80" fill="#f3c8b2"/>
<rect x="332.05" y="796.50" width="4.88" height="32.80" fill="#f3c8b2"/>
<rect x="336.23" y="796.50" width="4.88" height="32.80" fill="#e7d7ce"/>
<rect x="340.41" y="796.50" width="4.88" height="32.80" fill="#e7d7ce"/>
<rect x="344.59" y="796.50" width="4.88" height="32.80" fill="#e7d7ce"/>
<rect x="348.77" y="796.50" width="4.88" height="32.80" fill="#c6d6f1"/>
<rect x="352.95" y="796.50" width="4.88" height="32.80" fill="#c3d5f4"/>
<rect x="357.13" y="796.50" width="4.88" height="32.80" fill="#a2c1ff"/>
<rect x="361.31" y="796.50" width="4.88" height="32.80" fill="#b3cdfb"/>
<rect x="365.49" y="796.50" width="4.88" height="32.80" fill="#ccd9ed"/>
<rect x="369.67" y="796.50" width="4.88" height="32.80" fill="#ccd9ed"/>
<rect x="373.85" y="796.50" width="4.88" height="32.80" fill="#cad8ef"/>
<rect x="378.02" y="796.50" width="4.88" height="32.80" fill="#97b8ff"/>
<rect x="382.20" y="796.50" width="4.88" height="32.80" fill="#94b6ff"/>
<rect x="386.38" y="796.50" width="4.88" height="32.80" fill="#94b6ff"/>
<rect x="390.56" y="796.50" width="4.88" height="32.80" fill="#82a6fb"/>
<rect x="394.74" y="796.50" width="4.88" height="32.80" fill="#6a8bef"/>
<rect x="398.92" y="796.50" width="4.88" height="32.80" fill="#4f69d9"/>
<rect x="403.10" y="796.50" width="4.88" height="32.80" fill="#4961d2"/>
<rect x="407.28" y="796.50" width="4.88" height="32.80" fill="#97b8ff"/>
<rect x="411.46" y="796.50" width="4.88" height="32.80" fill="#97b8ff"/>
<rect x="415.64" y="796.50" width="4.88" height="32.80" fill="#97b8ff"/>
<rect x="419.82" y="796.50" width="4.18" height="32.80" fill="#a9c6fd"/>
<rect x="240.10" y="828.60" width="4.88" height="32.80" fill="#d2dbe8"/>
<rect x="244.28" y="828.60" width="4.88" height="32.80" fill="#d7dce3"/>
<rect x="248.46" y="828.60" width="4.88" height="32.80" fill="#d7dce3"/>
<rect x="252.64" y="828.60" width="4.88" height="32.80" fill="#d7dce3"/>
<rect x="256.82" y="828.60" width="4.88" height="32.80" fill="#d7dce3"/>
<rect x="261.00" y="828.60" width="4.88" height="32.80" fill="#d7dce3"/>
<rect x="265.18" y="828.60" width="4.88" height="32.80" fill="#d7dce3"/>
<rect x="269.36" y="828.60" width="4.88" height="32.80" fill="#d7dce3"/>
<rect x="273.54" y="828.60" width="4.88" height="32.80" fill="#d7dce3"/>
<rect x="277.72" y="828.60" width="4.88" height="32.80" fill="#d7dce3"/>
<rect x="281.90" y="828.60" width="4.88" height="32.80" fill="#efcfbf"/>
<rect x="286.07" y="828.60" width="4.88" height="32.80" fill="#edd2c3"/>
<rect x="290.25" y="828.60" width="4.88" height="32.80" fill="#dddcdc"/>
<rect x="294.43" y="828.60" width="4.88" height="32.80" fill="#dddcdc"/>
<rect x="298.61" y="828.60" width="4.88" height="32.80" fill="#d7dce3"/>
<rect x="302.79" y="828.60" width="4.88" height="32.80" fill="#e4d9d2"/>
<rect x="306.97" y="828.60" width="4.88" height="32.80" fill="#e4d9d2"/>
<rect x="311.15" y="828.60" width="4.88" height="32.80" fill="#d7dce3"/>
<rect x="315.33" y="828.60" width="4.88" height="32.80" fill="#d7dce3"/>
<rect x="319.51" y="828.60" width="4.88" height="32.80" fill="#d7dce3"/>
<rect x="323.69" y="828.60" width="4.88" height="32.80" fill="#dfdbd9"/>
<rect x="327.87" y="828.60" width="4.88" height="32.80" fill="#dfdbd9"/>
<rect x="332.05" y="828.60" width="4.88" height="32.80" fill="#dfdbd9"/>
<rect x="336.23" y="828.60" width="4.88" height="32.80" fill="#dddcdc"/>
<rect x="340.41" y="828.60" width="4.88" height="32.80" fill="#dddcdc"/>
<rect x="344.59" y="828.60" width="4.88" height="32.80" fill="#dddcdc"/>
<rect x="348.77" y="828.60" width="4.88" height="32.80" fill="#efcfbf"/>
<rect x="352.95" y="828.60" width="4.88" height="32.80" fill="#ebd3c6"/>
<rect x="357.13" y="828.60" width="4.88" height="32.80" fill="#d7dce3"/>
<rect x="361.31" y="828.60" width="4.88" height="32.80" fill="#dddcdc"/>
<rect x="365.49" y="828.60" width="4.88" height="32.80" fill="#dddcdc"/>
<rect x="369.67" y="828.60" width="4.88" height="32.80" fill="#d7dce3"/>
<rect x="373.85" y="828.60" width="4.88" height="32.80" fill="#d7dce3"/>
<rect x="378.02" y="828.60" width="4.88" height="32.80" fill="#d7dce3"/>
<rect x="382.20" y="828.60" width="4.88" height="32.80" fill="#d7dce3"/>
<rect x="386.38" y="828.60" width="4.88" height="32.80" fill="#edd2c3"/>
<rect x="390.56" y="828.60" width="4.88" height="32.80" fill="#dddcdc"/>
<rect x="394.74" y="828.60" width="4.88" height="32.80" fill="#d2dbe8"/>
<rect x="398.92" y="828.60" width="4.88" height="32.80" fill="#d2dbe8"/>
<rect x="403.10" y="828.60" width="4.88" height="32.80" fill="#cad8ef"/>
<rect x="407.28" y="828.60" width="4.88" height="32.80" fill="#cad8ef"/>
<rect x="411.46" y="828.60" width="4.88" height="32.80" fill="#cad8ef"/>
<rect x="415.64" y="828.60" width="4.88" height="32.80" fill="#cad8ef"/>
<rect x="419.82" y="828.60" width="4.18" height="32.80" fill="#ebd3c6"/>
<rect x="240.10" y="860.70" width="4.88" height="32.10" fill="#dddcdc"/>
<rect x="244.28" y="860.70" width="4.88" height="32.10" fill="#dddcdc"/>
<rect x="248.46" y="860.70" width="4.88" height="32.10" fill="#dddcdc"/>
<rect x="252.64" y="860.70" width="4.88" height="32.10" fill="#dddcdc"/>
<rect x="256.82" y="860.70" width="4.88" height="32.10" fill="#dddcdc"/>
<rect x="261.00" y="860.70" width="4.88" height="32.10" fill="#dddcdc"/>
<rect x="265.18" y="860.70" width="4.88" height="32.10" fill="#dddcdc"/>
<rect x="269.36" y="860.70" width="4.88" height="32.10" fill="#dddcdc"/>
<rect x="273.54" y="860.70" width="4.88" height="32.10" fill="#dfdbd9"/>
<rect x="277.72" y="860.70" width="4.88" height="32.10" fill="#dfdbd9"/>
<rect x="281.90" y="860.70" width="4.88" height="32.10" fill="#dfdbd9"/>
<rect x="286.07" y="860.70" width="4.88" height="32.10" fill="#dddcdc"/>
<rect x="290.25" y="860.70" width="4.88" height="32.10" fill="#dddcdc"/>
<rect x="294.43" y="860.70" width="4.88" height="32.10" fill="#dfdbd9"/>
<rect x="298.61" y="860.70" width="4.88" height="32.10" fill="#dddcdc"/>
<rect x="302.79" y="860.70" width="4.88" height="32.10" fill="#dddcdc"/>
<rect x="306.97" y="860.70" width="4.88" height="32.10" fill="#dddcdc"/>
<rect x="311.15" y="860.70" width="4.88" height="32.10" fill="#dddcdc"/>
<rect x="315.33" y="860.70" width="4.88" height="32.10" fill="#dfdbd9"/>
<rect x="319.51" y="860.70" width="4.88" height="32.10" fill="#dddcdc"/>
<rect x="323.69" y="860.70" width="4.88" height="32.10" fill="#dddcdc"/>
<rect x="327.87" y="860.70" width="4.88" height="32.10" fill="#dddcdc"/>
<rect x="332.05" y="860.70" width="4.88" height="32.10" fill="#dddcdc"/>
<rect x="336.23" y="860.70" width="4.88" height="32.10" fill="#dddcdc"/>
<rect x="340.41" y="860.70" width="4.88" height="32.10" fill="#dddcdc"/>
<rect x="344.59" y="860.70" width="4.88" height="32.10" fill="#dddcdc"/>
<rect x="348.77" y="860.70" width="4.88" height="32.10" fill="#dddcdc"/>
<rect x="352.95" y="860.70" width="4.88" height="32.10" fill="#dddcdc"/>
<rect x="357.13" y="860.70" width="4.88" height="32.10" fill="#dddcdc"/>
<rect x="361.31" y="860.70" width="4.88" height="32.10" fill="#dddcdc"/>
<rect x="365.49" y="860.70" width="4.88" height="32.10" fill="#dddcdc"/>
<rect x="369.67" y="860.70" width="4.88" height="32.10" fill="#dddcdc"/>
<rect x="373.85" y="860.70" width="4.88" height="32.10" fill="#dddcdc"/>
<rect x="378.02" y="860.70" width="4.88" height="32.10" fill="#dddcdc"/>
<rect x="382.20" y="860.70" width="4.88" height="32.10" fill="#dddcdc"/>
<rect x="386.38" y="860.70" width="4.88" height="32.10" fill="#dddcdc"/>
<rect x="390.56" y="860.70" width="4.88" height="32.10" fill="#dddcdc"/>
<rect x="394.74" y="860.70" width="4.88" height="32.10" fill="#dddcdc"/>
<rect x="398.92" y="860.70" width="4.88" height="32.10" fill="#dfdbd9"/>
<rect x="403.10" y="860.70" width="4.88" height="32.10" fill="#dfdbd9"/>
<rect x="407.28" y="860.70" width="4.88" height="32.10" fill="#dddcdc"/>
<rect x="411.46" y="860.70" width="4.88" height="32.10" fill="#dddcdc"/>
<rect x="415.64" y="860.70" width="4.88" height="32.10" fill="#dfdbd9"/>
<rect x="419.82" y="860.70" width="4.18" height="32.10" fill="#dddcdc"/>
<line x1="239.70" y1="764.40" x2="239.70" y2="893.30" stroke="#222" stroke-width="1.00" />
<line x1="424.20" y1="764.40" x2="424.20" y2="893.30" stroke="#222" stroke-width="1.00" />
<line x1="236.80" y1="780.45" x2="239.70" y2="780.45" stroke="#222" stroke-width="0.90" />
<text x="233.3" y="785.0" font-size="12.00" text-anchor="end" fill="#222" font-family="'Liberation Serif', serif" textLength="24.7" lengthAdjust="spacingAndGlyphs" >2s2/L</text>
<line x1="236.80" y1="812.55" x2="239.70" y2="812.55" stroke="#222" stroke-width="0.90" />
<text x="233.3" y="817.1" font-size="12.00" text-anchor="end" fill="#222" font-family="'Liberation Serif', serif" textLength="17.5" lengthAdjust="spacingAndGlyphs" >L/H</text>
<line x1="236.80" y1="844.65" x2="239.70" y2="844.65" stroke="#222" stroke-width="0.90" />
<text x="233.3" y="849.2" font-size="12.00" text-anchor="end" fill="#222" font-family="'Liberation Serif', serif" textLength="15.7" lengthAdjust="spacingAndGlyphs" >a/H</text>
<line x1="236.80" y1="876.75" x2="239.70" y2="876.75" stroke="#222" stroke-width="0.90" />
<text x="233.3" y="881.4" font-size="12.00" text-anchor="end" fill="#222" font-family="'Liberation Serif', serif" textLength="24.7" lengthAdjust="spacingAndGlyphs" >2s1/L</text>
<line x1="242.19" y1="892.80" x2="242.19" y2="895.80" stroke="#222" stroke-width="0.90" />
<text x="242.2" y="906.0" font-size="9.00" text-anchor="middle" fill="#222" font-family="'Liberation Serif', serif" textLength="4.0" lengthAdjust="spacingAndGlyphs" >0</text>
<line x1="283.99" y1="892.80" x2="283.99" y2="895.80" stroke="#222" stroke-width="0.90" />
<text x="284.0" y="906.0" font-size="9.00" text-anchor="middle" fill="#222" font-family="'Liberation Serif', serif" textLength="7.9" lengthAdjust="spacingAndGlyphs" >10</text>
<line x1="325.78" y1="892.80" x2="325.78" y2="895.80" stroke="#222" stroke-width="0.90" />
<text x="325.8" y="906.0" font-size="9.00" text-anchor="middle" fill="#222" font-family="'Liberation Serif', serif" textLength="7.9" lengthAdjust="spacingAndGlyphs" >20</text>
<line x1="367.58" y1="892.80" x2="367.58" y2="895.80" stroke="#222" stroke-width="0.90" />
<text x="367.6" y="906.0" font-size="9.00" text-anchor="middle" fill="#222" font-family="'Liberation Serif', serif" textLength="7.9" lengthAdjust="spacingAndGlyphs" >30</text>
<line x1="409.37" y1="892.80" x2="409.37" y2="895.80" stroke="#222" stroke-width="0.90" />
<text x="409.4" y="906.0" font-size="9.00" text-anchor="middle" fill="#222" font-family="'Liberation Serif', serif" textLength="7.9" lengthAdjust="spacingAndGlyphs" >40</text>
<text x="331.6" y="918.0" font-size="9.30" text-anchor="middle" fill="#222" font-family="'Liberation Serif', serif" textLength="31.6" lengthAdjust="spacingAndGlyphs" >Instances</text>
<rect x="424.50" y="769.90" width="9.00" height="21.20" fill="#000"/>
<rect x="424.50" y="802.10" width="6.30" height="21.20" fill="#000"/>
<rect x="424.50" y="833.50" width="1.10" height="22.00" fill="#000"/>
<line x1="240.30" y1="732.40" x2="423.50" y2="732.40" stroke="#b0b0b0" stroke-width="0.60" stroke-dasharray="1 1"/>
<polyline points="242.2,752.8 246.4,748.1 250.5,739.3 254.7,737.3 258.9,737.3 263.1,749.7 267.3,740.3 271.4,733.6 275.6,728.6 279.8,729.3 284.0,731.3 288.2,723.5 292.3,725.2 296.5,724.5 300.7,724.5 304.9,719.2 309.1,719.2 313.2,720.5 317.4,721.9 321.6,719.8 325.8,714.5 330.0,715.8 334.1,718.5 338.3,720.2 342.5,720.5 346.7,719.2 350.9,725.9 355.0,727.9 359.2,725.2 363.4,720.2 367.6,720.5 371.8,722.3 375.9,724.5 380.1,730.2 384.3,730.2 388.5,728.0 392.7,735.9 396.8,742.9 401.0,756.9 405.2,763.9 409.4,757.8 413.6,753.4 417.7,752.5 421.9,743.1" fill="none" stroke="#1a1a1a" stroke-width="1.1" stroke-linejoin="round"/>
<text x="215.1" y="736.7" font-size="10.9" fill="#222" font-family="'Liberation Sans', sans-serif" textLength="18.4" lengthAdjust="spacingAndGlyphs"><tspan font-style="italic">f</tspan>(<tspan font-style="italic">x</tspan>)</text>
<defs><linearGradient id="cb6" x1="0" y1="0" x2="0" y2="1"><stop offset="0.00" stop-color="#b40426"/><stop offset="0.05" stop-color="#c53334"/><stop offset="0.10" stop-color="#d65244"/><stop offset="0.15" stop-color="#e36c55"/><stop offset="0.20" stop-color="#ee8468"/><stop offset="0.25" stop-color="#f4987a"/><stop offset="0.30" stop-color="#f7ac8e"/><stop offset="0.35" stop-color="#f6bda2"/><stop offset="0.40" stop-color="#f2cbb7"/><stop offset="0.45" stop-color="#e9d5cb"/><stop offset="0.50" stop-color="#dddcdc"/><stop offset="0.55" stop-color="#cfdaea"/><stop offset="0.60" stop-color="#c0d4f5"/><stop offset="0.65" stop-color="#afcafc"/><stop offset="0.70" stop-color="#9ebeff"/><stop offset="0.75" stop-color="#8db0fe"/><stop offset="0.80" stop-color="#7b9ff9"/><stop offset="0.85" stop-color="#6a8bef"/><stop offset="0.90" stop-color="#5977e3"/><stop offset="0.95" stop-color="#4961d2"/><stop offset="1.00" stop-color="#3b4cc0"/></linearGradient></defs>
<rect x="444.90" y="705.90" width="2.00" height="164.90" fill="url(#cb6)"/>
<text x="449.4" y="709.4" font-size="9.50" text-anchor="start" fill="#222" font-family="'Liberation Serif', serif" textLength="19.2" lengthAdjust="spacingAndGlyphs" >3.992</text>
<text x="449.4" y="874.3" font-size="9.50" text-anchor="start" fill="#222" font-family="'Liberation Serif', serif" textLength="24.1" lengthAdjust="spacingAndGlyphs" >−3.992</text>
<text x="0" y="0" font-size="11.20" text-anchor="middle" dominant-baseline="central" fill="#222" font-family="'Liberation Serif', serif" textLength="166.0" lengthAdjust="spacingAndGlyphs" transform="translate(472.8,791.6) rotate(-90)">SHAP value (impact on model output)</text></svg>
</body></html>
